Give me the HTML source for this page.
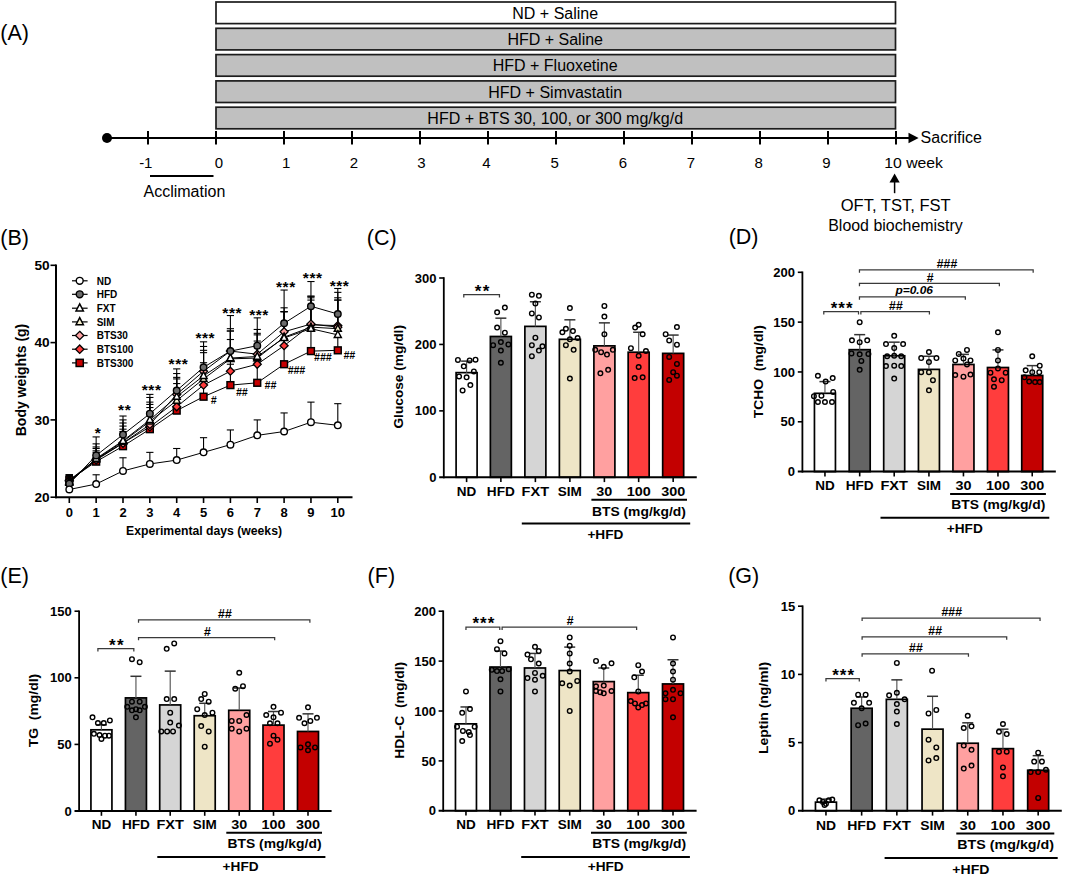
<!DOCTYPE html>
<html><head><meta charset="utf-8"><title>Figure</title>
<style>html,body{margin:0;padding:0;background:#fff;}body{width:1065px;height:877px;overflow:hidden;font-family:"Liberation Sans",sans-serif;}svg{display:block;}</style>
</head><body>
<svg width="1065" height="877" viewBox="0 0 1065 877" font-family="'Liberation Sans', sans-serif">
<rect width="1065" height="877" fill="#fff"/>
<text x="0.30" y="39.80" font-size="21.5">(A)</text>
<rect x="216.00" y="2.00" width="679.50" height="21.60" fill="#fff" stroke="#1c1c1c" stroke-width="1.7"/>
<text x="555.20" y="18.70" font-size="16" text-anchor="middle">ND + Saline</text>
<rect x="216.00" y="28.30" width="679.50" height="21.60" fill="#c0c0c0" stroke="#1c1c1c" stroke-width="1.7"/>
<text x="555.20" y="45.00" font-size="16" text-anchor="middle">HFD + Saline</text>
<rect x="216.00" y="54.60" width="679.50" height="21.60" fill="#c0c0c0" stroke="#1c1c1c" stroke-width="1.7"/>
<text x="555.20" y="71.30" font-size="16" text-anchor="middle">HFD + Fluoxetine</text>
<rect x="216.00" y="80.90" width="679.50" height="21.60" fill="#c0c0c0" stroke="#1c1c1c" stroke-width="1.7"/>
<text x="555.20" y="97.60" font-size="16" text-anchor="middle">HFD + Simvastatin</text>
<rect x="216.00" y="107.20" width="679.50" height="21.60" fill="#c0c0c0" stroke="#1c1c1c" stroke-width="1.7"/>
<text x="555.20" y="123.90" font-size="16" text-anchor="middle">HFD + BTS 30, 100, or 300 mg/kg/d</text>
<line x1="107.00" y1="138.00" x2="911.00" y2="138.00" stroke="#000" stroke-width="2"/>
<circle cx="107.00" cy="138.00" r="5.00" fill="#000" stroke="#000" stroke-width="0"/>
<polygon points="908.50,132.80 908.50,143.20 918.60,138.00" fill="#000" stroke="#000" stroke-width="0" stroke-linejoin="miter"/>
<line x1="148.00" y1="131.00" x2="148.00" y2="144.50" stroke="#000" stroke-width="2"/>
<line x1="216.00" y1="131.00" x2="216.00" y2="144.50" stroke="#000" stroke-width="2"/>
<line x1="284.00" y1="131.00" x2="284.00" y2="144.50" stroke="#000" stroke-width="2"/>
<line x1="352.00" y1="131.00" x2="352.00" y2="144.50" stroke="#000" stroke-width="2"/>
<line x1="420.00" y1="131.00" x2="420.00" y2="144.50" stroke="#000" stroke-width="2"/>
<line x1="488.00" y1="131.00" x2="488.00" y2="144.50" stroke="#000" stroke-width="2"/>
<line x1="556.00" y1="131.00" x2="556.00" y2="144.50" stroke="#000" stroke-width="2"/>
<line x1="624.00" y1="131.00" x2="624.00" y2="144.50" stroke="#000" stroke-width="2"/>
<line x1="692.00" y1="131.00" x2="692.00" y2="144.50" stroke="#000" stroke-width="2"/>
<line x1="760.00" y1="131.00" x2="760.00" y2="144.50" stroke="#000" stroke-width="2"/>
<line x1="828.00" y1="131.00" x2="828.00" y2="144.50" stroke="#000" stroke-width="2"/>
<line x1="896.00" y1="131.00" x2="896.00" y2="144.50" stroke="#000" stroke-width="2"/>
<text x="145.80" y="168.00" font-size="15" text-anchor="middle">-1</text>
<text x="219.00" y="168.00" font-size="15" text-anchor="middle">0</text>
<text x="286.20" y="168.00" font-size="15" text-anchor="middle">1</text>
<text x="353.80" y="168.00" font-size="15" text-anchor="middle">2</text>
<text x="421.50" y="168.00" font-size="15" text-anchor="middle">3</text>
<text x="486.50" y="168.00" font-size="15" text-anchor="middle">4</text>
<text x="554.60" y="168.00" font-size="15" text-anchor="middle">5</text>
<text x="623.00" y="168.00" font-size="15" text-anchor="middle">6</text>
<text x="690.80" y="168.00" font-size="15" text-anchor="middle">7</text>
<text x="758.60" y="168.00" font-size="15" text-anchor="middle">8</text>
<text x="826.50" y="168.00" font-size="15" text-anchor="middle">9</text>
<text x="884.20" y="168.00" font-size="15" textLength="58.8" lengthAdjust="spacingAndGlyphs">10 week</text>
<line x1="150.00" y1="176.00" x2="213.50" y2="176.00" stroke="#000" stroke-width="2.2"/>
<text x="184.40" y="197.20" font-size="16" text-anchor="middle">Acclimation</text>
<text x="920.60" y="143.00" font-size="16">Sacrifice</text>
<polygon points="889.50,182.60 899.70,182.60 894.60,173.40" fill="#000" stroke="#000" stroke-width="0" stroke-linejoin="miter"/>
<line x1="894.60" y1="182.00" x2="894.60" y2="193.20" stroke="#000" stroke-width="1.5"/>
<text x="895.70" y="211.00" font-size="16" text-anchor="middle" textLength="110" lengthAdjust="spacingAndGlyphs">OFT, TST, FST</text>
<text x="895.50" y="231.30" font-size="16" text-anchor="middle" textLength="134.5" lengthAdjust="spacingAndGlyphs">Blood biochemistry</text>
<text x="0.30" y="244.50" font-size="21.5">(B)</text>
<text x="366.80" y="244.60" font-size="21.5">(C)</text>
<text x="728.70" y="244.40" font-size="21.5">(D)</text>
<text x="0.30" y="583.40" font-size="21.5">(E)</text>
<text x="367.60" y="582.80" font-size="21.5">(F)</text>
<text x="728.20" y="583.40" font-size="21.5">(G)</text>
<line x1="56.00" y1="264.50" x2="56.00" y2="498.20" stroke="#000" stroke-width="2"/>
<line x1="55.00" y1="497.20" x2="352.50" y2="497.20" stroke="#000" stroke-width="2"/>
<line x1="50.50" y1="497.20" x2="56.00" y2="497.20" stroke="#000" stroke-width="1.6"/>
<text x="49.60" y="501.80" font-size="13" font-weight="bold" text-anchor="end" textLength="15.2" lengthAdjust="spacingAndGlyphs">20</text>
<line x1="50.50" y1="419.90" x2="56.00" y2="419.90" stroke="#000" stroke-width="1.6"/>
<text x="49.60" y="424.50" font-size="13" font-weight="bold" text-anchor="end" textLength="15.2" lengthAdjust="spacingAndGlyphs">30</text>
<line x1="50.50" y1="342.60" x2="56.00" y2="342.60" stroke="#000" stroke-width="1.6"/>
<text x="49.60" y="347.20" font-size="13" font-weight="bold" text-anchor="end" textLength="15.2" lengthAdjust="spacingAndGlyphs">40</text>
<line x1="50.50" y1="265.30" x2="56.00" y2="265.30" stroke="#000" stroke-width="1.6"/>
<text x="49.60" y="269.90" font-size="13" font-weight="bold" text-anchor="end" textLength="15.2" lengthAdjust="spacingAndGlyphs">50</text>
<line x1="69.30" y1="497.00" x2="69.30" y2="503.00" stroke="#000" stroke-width="1.6"/>
<text x="69.30" y="517.40" font-size="13" font-weight="bold" text-anchor="middle">0</text>
<line x1="96.15" y1="497.00" x2="96.15" y2="503.00" stroke="#000" stroke-width="1.6"/>
<text x="96.15" y="517.40" font-size="13" font-weight="bold" text-anchor="middle">1</text>
<line x1="123.00" y1="497.00" x2="123.00" y2="503.00" stroke="#000" stroke-width="1.6"/>
<text x="123.00" y="517.40" font-size="13" font-weight="bold" text-anchor="middle">2</text>
<line x1="149.85" y1="497.00" x2="149.85" y2="503.00" stroke="#000" stroke-width="1.6"/>
<text x="149.85" y="517.40" font-size="13" font-weight="bold" text-anchor="middle">3</text>
<line x1="176.70" y1="497.00" x2="176.70" y2="503.00" stroke="#000" stroke-width="1.6"/>
<text x="176.70" y="517.40" font-size="13" font-weight="bold" text-anchor="middle">4</text>
<line x1="203.55" y1="497.00" x2="203.55" y2="503.00" stroke="#000" stroke-width="1.6"/>
<text x="203.55" y="517.40" font-size="13" font-weight="bold" text-anchor="middle">5</text>
<line x1="230.40" y1="497.00" x2="230.40" y2="503.00" stroke="#000" stroke-width="1.6"/>
<text x="230.40" y="517.40" font-size="13" font-weight="bold" text-anchor="middle">6</text>
<line x1="257.25" y1="497.00" x2="257.25" y2="503.00" stroke="#000" stroke-width="1.6"/>
<text x="257.25" y="517.40" font-size="13" font-weight="bold" text-anchor="middle">7</text>
<line x1="284.10" y1="497.00" x2="284.10" y2="503.00" stroke="#000" stroke-width="1.6"/>
<text x="284.10" y="517.40" font-size="13" font-weight="bold" text-anchor="middle">8</text>
<line x1="310.95" y1="497.00" x2="310.95" y2="503.00" stroke="#000" stroke-width="1.6"/>
<text x="310.95" y="517.40" font-size="13" font-weight="bold" text-anchor="middle">9</text>
<line x1="337.80" y1="497.00" x2="337.80" y2="503.00" stroke="#000" stroke-width="1.6"/>
<text x="337.80" y="517.40" font-size="13" font-weight="bold" text-anchor="middle">10</text>
<text x="204.00" y="535.20" font-size="12" font-weight="bold" text-anchor="middle" textLength="156" lengthAdjust="spacingAndGlyphs">Experimental days (weeks)</text>
<text x="26.30" y="380.00" font-size="14" font-weight="bold" text-anchor="middle" textLength="112.5" lengthAdjust="spacingAndGlyphs" transform="rotate(-90 26.30 380.00)">Body weights (g)</text>
<line x1="69.30" y1="489.47" x2="69.30" y2="484.83" stroke="#000" stroke-width="1.1"/>
<line x1="65.70" y1="484.83" x2="72.90" y2="484.83" stroke="#000" stroke-width="1.1"/>
<line x1="96.15" y1="484.06" x2="96.15" y2="474.78" stroke="#000" stroke-width="1.1"/>
<line x1="92.55" y1="474.78" x2="99.75" y2="474.78" stroke="#000" stroke-width="1.1"/>
<line x1="123.00" y1="470.92" x2="123.00" y2="457.78" stroke="#000" stroke-width="1.1"/>
<line x1="119.40" y1="457.78" x2="126.60" y2="457.78" stroke="#000" stroke-width="1.1"/>
<line x1="149.85" y1="463.96" x2="149.85" y2="452.37" stroke="#000" stroke-width="1.1"/>
<line x1="146.25" y1="452.37" x2="153.45" y2="452.37" stroke="#000" stroke-width="1.1"/>
<line x1="176.70" y1="460.10" x2="176.70" y2="448.50" stroke="#000" stroke-width="1.1"/>
<line x1="173.10" y1="448.50" x2="180.30" y2="448.50" stroke="#000" stroke-width="1.1"/>
<line x1="203.55" y1="452.37" x2="203.55" y2="437.68" stroke="#000" stroke-width="1.1"/>
<line x1="199.95" y1="437.68" x2="207.15" y2="437.68" stroke="#000" stroke-width="1.1"/>
<line x1="230.40" y1="444.64" x2="230.40" y2="429.95" stroke="#000" stroke-width="1.1"/>
<line x1="226.80" y1="429.95" x2="234.00" y2="429.95" stroke="#000" stroke-width="1.1"/>
<line x1="257.25" y1="435.36" x2="257.25" y2="419.90" stroke="#000" stroke-width="1.1"/>
<line x1="253.65" y1="419.90" x2="260.85" y2="419.90" stroke="#000" stroke-width="1.1"/>
<line x1="284.10" y1="431.50" x2="284.10" y2="412.94" stroke="#000" stroke-width="1.1"/>
<line x1="280.50" y1="412.94" x2="287.70" y2="412.94" stroke="#000" stroke-width="1.1"/>
<line x1="310.95" y1="422.22" x2="310.95" y2="402.12" stroke="#000" stroke-width="1.1"/>
<line x1="307.35" y1="402.12" x2="314.55" y2="402.12" stroke="#000" stroke-width="1.1"/>
<line x1="337.80" y1="425.31" x2="337.80" y2="403.67" stroke="#000" stroke-width="1.1"/>
<line x1="334.20" y1="403.67" x2="341.40" y2="403.67" stroke="#000" stroke-width="1.1"/>
<line x1="69.30" y1="483.67" x2="69.30" y2="477.10" stroke="#000" stroke-width="1.1"/>
<line x1="65.70" y1="477.10" x2="72.90" y2="477.10" stroke="#000" stroke-width="1.1"/>
<line x1="96.15" y1="455.46" x2="96.15" y2="436.91" stroke="#000" stroke-width="1.1"/>
<line x1="92.55" y1="436.91" x2="99.75" y2="436.91" stroke="#000" stroke-width="1.1"/>
<line x1="123.00" y1="434.59" x2="123.00" y2="416.03" stroke="#000" stroke-width="1.1"/>
<line x1="119.40" y1="416.03" x2="126.60" y2="416.03" stroke="#000" stroke-width="1.1"/>
<line x1="149.85" y1="413.72" x2="149.85" y2="394.39" stroke="#000" stroke-width="1.1"/>
<line x1="146.25" y1="394.39" x2="153.45" y2="394.39" stroke="#000" stroke-width="1.1"/>
<line x1="176.70" y1="390.53" x2="176.70" y2="368.88" stroke="#000" stroke-width="1.1"/>
<line x1="173.10" y1="368.88" x2="180.30" y2="368.88" stroke="#000" stroke-width="1.1"/>
<line x1="203.55" y1="367.34" x2="203.55" y2="341.83" stroke="#000" stroke-width="1.1"/>
<line x1="199.95" y1="341.83" x2="207.15" y2="341.83" stroke="#000" stroke-width="1.1"/>
<line x1="230.40" y1="351.10" x2="230.40" y2="315.54" stroke="#000" stroke-width="1.1"/>
<line x1="226.80" y1="315.54" x2="234.00" y2="315.54" stroke="#000" stroke-width="1.1"/>
<line x1="257.25" y1="345.69" x2="257.25" y2="317.86" stroke="#000" stroke-width="1.1"/>
<line x1="253.65" y1="317.86" x2="260.85" y2="317.86" stroke="#000" stroke-width="1.1"/>
<line x1="284.10" y1="323.27" x2="284.10" y2="290.04" stroke="#000" stroke-width="1.1"/>
<line x1="280.50" y1="290.04" x2="287.70" y2="290.04" stroke="#000" stroke-width="1.1"/>
<line x1="310.95" y1="306.27" x2="310.95" y2="281.53" stroke="#000" stroke-width="1.1"/>
<line x1="307.35" y1="281.53" x2="314.55" y2="281.53" stroke="#000" stroke-width="1.1"/>
<line x1="337.80" y1="314.00" x2="337.80" y2="288.49" stroke="#000" stroke-width="1.1"/>
<line x1="334.20" y1="288.49" x2="341.40" y2="288.49" stroke="#000" stroke-width="1.1"/>
<line x1="69.30" y1="482.51" x2="69.30" y2="475.56" stroke="#000" stroke-width="1.1"/>
<line x1="65.70" y1="475.56" x2="72.90" y2="475.56" stroke="#000" stroke-width="1.1"/>
<line x1="96.15" y1="458.55" x2="96.15" y2="443.86" stroke="#000" stroke-width="1.1"/>
<line x1="92.55" y1="443.86" x2="99.75" y2="443.86" stroke="#000" stroke-width="1.1"/>
<line x1="123.00" y1="440.77" x2="123.00" y2="419.90" stroke="#000" stroke-width="1.1"/>
<line x1="119.40" y1="419.90" x2="126.60" y2="419.90" stroke="#000" stroke-width="1.1"/>
<line x1="149.85" y1="419.90" x2="149.85" y2="397.48" stroke="#000" stroke-width="1.1"/>
<line x1="146.25" y1="397.48" x2="153.45" y2="397.48" stroke="#000" stroke-width="1.1"/>
<line x1="176.70" y1="396.71" x2="176.70" y2="373.52" stroke="#000" stroke-width="1.1"/>
<line x1="173.10" y1="373.52" x2="180.30" y2="373.52" stroke="#000" stroke-width="1.1"/>
<line x1="203.55" y1="375.84" x2="203.55" y2="346.46" stroke="#000" stroke-width="1.1"/>
<line x1="199.95" y1="346.46" x2="207.15" y2="346.46" stroke="#000" stroke-width="1.1"/>
<line x1="230.40" y1="358.06" x2="230.40" y2="331.00" stroke="#000" stroke-width="1.1"/>
<line x1="226.80" y1="331.00" x2="234.00" y2="331.00" stroke="#000" stroke-width="1.1"/>
<line x1="257.25" y1="356.51" x2="257.25" y2="333.32" stroke="#000" stroke-width="1.1"/>
<line x1="253.65" y1="333.32" x2="260.85" y2="333.32" stroke="#000" stroke-width="1.1"/>
<line x1="284.10" y1="337.96" x2="284.10" y2="311.68" stroke="#000" stroke-width="1.1"/>
<line x1="280.50" y1="311.68" x2="287.70" y2="311.68" stroke="#000" stroke-width="1.1"/>
<line x1="310.95" y1="328.69" x2="310.95" y2="300.08" stroke="#000" stroke-width="1.1"/>
<line x1="307.35" y1="300.08" x2="314.55" y2="300.08" stroke="#000" stroke-width="1.1"/>
<line x1="337.80" y1="334.87" x2="337.80" y2="300.08" stroke="#000" stroke-width="1.1"/>
<line x1="334.20" y1="300.08" x2="341.40" y2="300.08" stroke="#000" stroke-width="1.1"/>
<line x1="69.30" y1="481.74" x2="69.30" y2="475.56" stroke="#000" stroke-width="1.1"/>
<line x1="65.70" y1="475.56" x2="72.90" y2="475.56" stroke="#000" stroke-width="1.1"/>
<line x1="96.15" y1="459.32" x2="96.15" y2="446.95" stroke="#000" stroke-width="1.1"/>
<line x1="92.55" y1="446.95" x2="99.75" y2="446.95" stroke="#000" stroke-width="1.1"/>
<line x1="123.00" y1="441.54" x2="123.00" y2="422.99" stroke="#000" stroke-width="1.1"/>
<line x1="119.40" y1="422.99" x2="126.60" y2="422.99" stroke="#000" stroke-width="1.1"/>
<line x1="149.85" y1="421.45" x2="149.85" y2="402.12" stroke="#000" stroke-width="1.1"/>
<line x1="146.25" y1="402.12" x2="153.45" y2="402.12" stroke="#000" stroke-width="1.1"/>
<line x1="176.70" y1="400.57" x2="176.70" y2="377.38" stroke="#000" stroke-width="1.1"/>
<line x1="173.10" y1="377.38" x2="180.30" y2="377.38" stroke="#000" stroke-width="1.1"/>
<line x1="203.55" y1="378.93" x2="203.55" y2="350.33" stroke="#000" stroke-width="1.1"/>
<line x1="199.95" y1="350.33" x2="207.15" y2="350.33" stroke="#000" stroke-width="1.1"/>
<line x1="230.40" y1="358.83" x2="230.40" y2="328.69" stroke="#000" stroke-width="1.1"/>
<line x1="226.80" y1="328.69" x2="234.00" y2="328.69" stroke="#000" stroke-width="1.1"/>
<line x1="257.25" y1="358.06" x2="257.25" y2="334.87" stroke="#000" stroke-width="1.1"/>
<line x1="253.65" y1="334.87" x2="260.85" y2="334.87" stroke="#000" stroke-width="1.1"/>
<line x1="284.10" y1="337.19" x2="284.10" y2="307.81" stroke="#000" stroke-width="1.1"/>
<line x1="280.50" y1="307.81" x2="287.70" y2="307.81" stroke="#000" stroke-width="1.1"/>
<line x1="310.95" y1="327.14" x2="310.95" y2="296.22" stroke="#000" stroke-width="1.1"/>
<line x1="307.35" y1="296.22" x2="314.55" y2="296.22" stroke="#000" stroke-width="1.1"/>
<line x1="337.80" y1="328.69" x2="337.80" y2="297.77" stroke="#000" stroke-width="1.1"/>
<line x1="334.20" y1="297.77" x2="341.40" y2="297.77" stroke="#000" stroke-width="1.1"/>
<line x1="69.30" y1="480.97" x2="69.30" y2="474.78" stroke="#000" stroke-width="1.1"/>
<line x1="65.70" y1="474.78" x2="72.90" y2="474.78" stroke="#000" stroke-width="1.1"/>
<line x1="96.15" y1="460.10" x2="96.15" y2="448.50" stroke="#000" stroke-width="1.1"/>
<line x1="92.55" y1="448.50" x2="99.75" y2="448.50" stroke="#000" stroke-width="1.1"/>
<line x1="123.00" y1="443.09" x2="123.00" y2="426.08" stroke="#000" stroke-width="1.1"/>
<line x1="119.40" y1="426.08" x2="126.60" y2="426.08" stroke="#000" stroke-width="1.1"/>
<line x1="149.85" y1="424.54" x2="149.85" y2="404.44" stroke="#000" stroke-width="1.1"/>
<line x1="146.25" y1="404.44" x2="153.45" y2="404.44" stroke="#000" stroke-width="1.1"/>
<line x1="176.70" y1="394.39" x2="176.70" y2="378.93" stroke="#000" stroke-width="1.1"/>
<line x1="173.10" y1="378.93" x2="180.30" y2="378.93" stroke="#000" stroke-width="1.1"/>
<line x1="203.55" y1="371.20" x2="203.55" y2="352.65" stroke="#000" stroke-width="1.1"/>
<line x1="199.95" y1="352.65" x2="207.15" y2="352.65" stroke="#000" stroke-width="1.1"/>
<line x1="230.40" y1="351.10" x2="230.40" y2="331.00" stroke="#000" stroke-width="1.1"/>
<line x1="226.80" y1="331.00" x2="234.00" y2="331.00" stroke="#000" stroke-width="1.1"/>
<line x1="257.25" y1="354.19" x2="257.25" y2="329.46" stroke="#000" stroke-width="1.1"/>
<line x1="253.65" y1="329.46" x2="260.85" y2="329.46" stroke="#000" stroke-width="1.1"/>
<line x1="284.10" y1="331.78" x2="284.10" y2="311.68" stroke="#000" stroke-width="1.1"/>
<line x1="280.50" y1="311.68" x2="287.70" y2="311.68" stroke="#000" stroke-width="1.1"/>
<line x1="310.95" y1="324.05" x2="310.95" y2="297.77" stroke="#000" stroke-width="1.1"/>
<line x1="307.35" y1="297.77" x2="314.55" y2="297.77" stroke="#000" stroke-width="1.1"/>
<line x1="337.80" y1="327.14" x2="337.80" y2="300.08" stroke="#000" stroke-width="1.1"/>
<line x1="334.20" y1="300.08" x2="341.40" y2="300.08" stroke="#000" stroke-width="1.1"/>
<line x1="69.30" y1="480.19" x2="69.30" y2="474.78" stroke="#000" stroke-width="1.1"/>
<line x1="65.70" y1="474.78" x2="72.90" y2="474.78" stroke="#000" stroke-width="1.1"/>
<line x1="96.15" y1="459.32" x2="96.15" y2="450.82" stroke="#000" stroke-width="1.1"/>
<line x1="92.55" y1="450.82" x2="99.75" y2="450.82" stroke="#000" stroke-width="1.1"/>
<line x1="123.00" y1="443.09" x2="123.00" y2="429.18" stroke="#000" stroke-width="1.1"/>
<line x1="119.40" y1="429.18" x2="126.60" y2="429.18" stroke="#000" stroke-width="1.1"/>
<line x1="149.85" y1="426.86" x2="149.85" y2="407.53" stroke="#000" stroke-width="1.1"/>
<line x1="146.25" y1="407.53" x2="153.45" y2="407.53" stroke="#000" stroke-width="1.1"/>
<line x1="176.70" y1="406.76" x2="176.70" y2="383.57" stroke="#000" stroke-width="1.1"/>
<line x1="173.10" y1="383.57" x2="180.30" y2="383.57" stroke="#000" stroke-width="1.1"/>
<line x1="203.55" y1="385.12" x2="203.55" y2="362.70" stroke="#000" stroke-width="1.1"/>
<line x1="199.95" y1="362.70" x2="207.15" y2="362.70" stroke="#000" stroke-width="1.1"/>
<line x1="230.40" y1="371.20" x2="230.40" y2="339.51" stroke="#000" stroke-width="1.1"/>
<line x1="226.80" y1="339.51" x2="234.00" y2="339.51" stroke="#000" stroke-width="1.1"/>
<line x1="257.25" y1="364.24" x2="257.25" y2="341.05" stroke="#000" stroke-width="1.1"/>
<line x1="253.65" y1="341.05" x2="260.85" y2="341.05" stroke="#000" stroke-width="1.1"/>
<line x1="284.10" y1="345.69" x2="284.10" y2="311.68" stroke="#000" stroke-width="1.1"/>
<line x1="280.50" y1="311.68" x2="287.70" y2="311.68" stroke="#000" stroke-width="1.1"/>
<line x1="310.95" y1="324.82" x2="310.95" y2="296.22" stroke="#000" stroke-width="1.1"/>
<line x1="307.35" y1="296.22" x2="314.55" y2="296.22" stroke="#000" stroke-width="1.1"/>
<line x1="337.80" y1="325.59" x2="337.80" y2="292.36" stroke="#000" stroke-width="1.1"/>
<line x1="334.20" y1="292.36" x2="341.40" y2="292.36" stroke="#000" stroke-width="1.1"/>
<line x1="69.30" y1="480.19" x2="69.30" y2="474.78" stroke="#000" stroke-width="1.1"/>
<line x1="65.70" y1="474.78" x2="72.90" y2="474.78" stroke="#000" stroke-width="1.1"/>
<line x1="96.15" y1="461.64" x2="96.15" y2="452.37" stroke="#000" stroke-width="1.1"/>
<line x1="92.55" y1="452.37" x2="99.75" y2="452.37" stroke="#000" stroke-width="1.1"/>
<line x1="123.00" y1="446.18" x2="123.00" y2="431.50" stroke="#000" stroke-width="1.1"/>
<line x1="119.40" y1="431.50" x2="126.60" y2="431.50" stroke="#000" stroke-width="1.1"/>
<line x1="149.85" y1="429.18" x2="149.85" y2="412.17" stroke="#000" stroke-width="1.1"/>
<line x1="146.25" y1="412.17" x2="153.45" y2="412.17" stroke="#000" stroke-width="1.1"/>
<line x1="176.70" y1="410.62" x2="176.70" y2="392.84" stroke="#000" stroke-width="1.1"/>
<line x1="173.10" y1="392.84" x2="180.30" y2="392.84" stroke="#000" stroke-width="1.1"/>
<line x1="203.55" y1="396.71" x2="203.55" y2="376.61" stroke="#000" stroke-width="1.1"/>
<line x1="199.95" y1="376.61" x2="207.15" y2="376.61" stroke="#000" stroke-width="1.1"/>
<line x1="230.40" y1="385.12" x2="230.40" y2="364.24" stroke="#000" stroke-width="1.1"/>
<line x1="226.80" y1="364.24" x2="234.00" y2="364.24" stroke="#000" stroke-width="1.1"/>
<line x1="257.25" y1="382.80" x2="257.25" y2="361.92" stroke="#000" stroke-width="1.1"/>
<line x1="253.65" y1="361.92" x2="260.85" y2="361.92" stroke="#000" stroke-width="1.1"/>
<line x1="284.10" y1="364.24" x2="284.10" y2="338.74" stroke="#000" stroke-width="1.1"/>
<line x1="280.50" y1="338.74" x2="287.70" y2="338.74" stroke="#000" stroke-width="1.1"/>
<line x1="310.95" y1="351.10" x2="310.95" y2="331.00" stroke="#000" stroke-width="1.1"/>
<line x1="307.35" y1="331.00" x2="314.55" y2="331.00" stroke="#000" stroke-width="1.1"/>
<line x1="337.80" y1="350.33" x2="337.80" y2="327.14" stroke="#000" stroke-width="1.1"/>
<line x1="334.20" y1="327.14" x2="341.40" y2="327.14" stroke="#000" stroke-width="1.1"/>
<path d="M69.30,480.19 L96.15,461.64 L123.00,446.18 L149.85,429.18 L176.70,410.62 L203.55,396.71 L230.40,385.12 L257.25,382.80 L284.10,364.24 L310.95,351.10 L337.80,350.33" fill="none" stroke="#000" stroke-width="1.0"/>
<rect x="65.90" y="476.79" width="6.80" height="6.80" fill="#c80000" stroke="#000" stroke-width="1.5"/>
<rect x="92.75" y="458.24" width="6.80" height="6.80" fill="#c80000" stroke="#000" stroke-width="1.5"/>
<rect x="119.60" y="442.78" width="6.80" height="6.80" fill="#c80000" stroke="#000" stroke-width="1.5"/>
<rect x="146.45" y="425.78" width="6.80" height="6.80" fill="#c80000" stroke="#000" stroke-width="1.5"/>
<rect x="173.30" y="407.22" width="6.80" height="6.80" fill="#c80000" stroke="#000" stroke-width="1.5"/>
<rect x="200.15" y="393.31" width="6.80" height="6.80" fill="#c80000" stroke="#000" stroke-width="1.5"/>
<rect x="227.00" y="381.72" width="6.80" height="6.80" fill="#c80000" stroke="#000" stroke-width="1.5"/>
<rect x="253.85" y="379.40" width="6.80" height="6.80" fill="#c80000" stroke="#000" stroke-width="1.5"/>
<rect x="280.70" y="360.84" width="6.80" height="6.80" fill="#c80000" stroke="#000" stroke-width="1.5"/>
<rect x="307.55" y="347.70" width="6.80" height="6.80" fill="#c80000" stroke="#000" stroke-width="1.5"/>
<rect x="334.40" y="346.93" width="6.80" height="6.80" fill="#c80000" stroke="#000" stroke-width="1.5"/>
<path d="M69.30,480.19 L96.15,459.32 L123.00,443.09 L149.85,426.86 L176.70,406.76 L203.55,385.12 L230.40,371.20 L257.25,364.24 L284.10,345.69 L310.95,324.82 L337.80,325.59" fill="none" stroke="#000" stroke-width="1.0"/>
<polygon points="69.30,476.19 73.30,480.19 69.30,484.19 65.30,480.19" fill="#ff3c3c" stroke="#000" stroke-width="1.3" stroke-linejoin="miter"/>
<polygon points="96.15,455.32 100.15,459.32 96.15,463.32 92.15,459.32" fill="#ff3c3c" stroke="#000" stroke-width="1.3" stroke-linejoin="miter"/>
<polygon points="123.00,439.09 127.00,443.09 123.00,447.09 119.00,443.09" fill="#ff3c3c" stroke="#000" stroke-width="1.3" stroke-linejoin="miter"/>
<polygon points="149.85,422.86 153.85,426.86 149.85,430.86 145.85,426.86" fill="#ff3c3c" stroke="#000" stroke-width="1.3" stroke-linejoin="miter"/>
<polygon points="176.70,402.76 180.70,406.76 176.70,410.76 172.70,406.76" fill="#ff3c3c" stroke="#000" stroke-width="1.3" stroke-linejoin="miter"/>
<polygon points="203.55,381.12 207.55,385.12 203.55,389.12 199.55,385.12" fill="#ff3c3c" stroke="#000" stroke-width="1.3" stroke-linejoin="miter"/>
<polygon points="230.40,367.20 234.40,371.20 230.40,375.20 226.40,371.20" fill="#ff3c3c" stroke="#000" stroke-width="1.3" stroke-linejoin="miter"/>
<polygon points="257.25,360.24 261.25,364.24 257.25,368.24 253.25,364.24" fill="#ff3c3c" stroke="#000" stroke-width="1.3" stroke-linejoin="miter"/>
<polygon points="284.10,341.69 288.10,345.69 284.10,349.69 280.10,345.69" fill="#ff3c3c" stroke="#000" stroke-width="1.3" stroke-linejoin="miter"/>
<polygon points="310.95,320.82 314.95,324.82 310.95,328.82 306.95,324.82" fill="#ff3c3c" stroke="#000" stroke-width="1.3" stroke-linejoin="miter"/>
<polygon points="337.80,321.59 341.80,325.59 337.80,329.59 333.80,325.59" fill="#ff3c3c" stroke="#000" stroke-width="1.3" stroke-linejoin="miter"/>
<path d="M69.30,480.97 L96.15,460.10 L123.00,443.09 L149.85,424.54 L176.70,394.39 L203.55,371.20 L230.40,351.10 L257.25,354.19 L284.10,331.78 L310.95,324.05 L337.80,327.14" fill="none" stroke="#000" stroke-width="1.0"/>
<polygon points="69.30,476.97 73.30,480.97 69.30,484.97 65.30,480.97" fill="#ffa3a3" stroke="#000" stroke-width="1.3" stroke-linejoin="miter"/>
<polygon points="96.15,456.10 100.15,460.10 96.15,464.10 92.15,460.10" fill="#ffa3a3" stroke="#000" stroke-width="1.3" stroke-linejoin="miter"/>
<polygon points="123.00,439.09 127.00,443.09 123.00,447.09 119.00,443.09" fill="#ffa3a3" stroke="#000" stroke-width="1.3" stroke-linejoin="miter"/>
<polygon points="149.85,420.54 153.85,424.54 149.85,428.54 145.85,424.54" fill="#ffa3a3" stroke="#000" stroke-width="1.3" stroke-linejoin="miter"/>
<polygon points="176.70,390.39 180.70,394.39 176.70,398.39 172.70,394.39" fill="#ffa3a3" stroke="#000" stroke-width="1.3" stroke-linejoin="miter"/>
<polygon points="203.55,367.20 207.55,371.20 203.55,375.20 199.55,371.20" fill="#ffa3a3" stroke="#000" stroke-width="1.3" stroke-linejoin="miter"/>
<polygon points="230.40,347.10 234.40,351.10 230.40,355.10 226.40,351.10" fill="#ffa3a3" stroke="#000" stroke-width="1.3" stroke-linejoin="miter"/>
<polygon points="257.25,350.19 261.25,354.19 257.25,358.19 253.25,354.19" fill="#ffa3a3" stroke="#000" stroke-width="1.3" stroke-linejoin="miter"/>
<polygon points="284.10,327.78 288.10,331.78 284.10,335.78 280.10,331.78" fill="#ffa3a3" stroke="#000" stroke-width="1.3" stroke-linejoin="miter"/>
<polygon points="310.95,320.05 314.95,324.05 310.95,328.05 306.95,324.05" fill="#ffa3a3" stroke="#000" stroke-width="1.3" stroke-linejoin="miter"/>
<polygon points="337.80,323.14 341.80,327.14 337.80,331.14 333.80,327.14" fill="#ffa3a3" stroke="#000" stroke-width="1.3" stroke-linejoin="miter"/>
<path d="M69.30,481.74 L96.15,459.32 L123.00,441.54 L149.85,421.45 L176.70,400.57 L203.55,378.93 L230.40,358.83 L257.25,358.06 L284.10,337.19 L310.95,327.14 L337.80,328.69" fill="none" stroke="#000" stroke-width="1.0"/>
<polygon points="69.30,477.64 72.80,484.37 65.80,484.37" fill="#f7f0cf" stroke="#000" stroke-width="1.5" stroke-linejoin="miter"/>
<polygon points="96.15,455.22 99.65,461.95 92.65,461.95" fill="#f7f0cf" stroke="#000" stroke-width="1.5" stroke-linejoin="miter"/>
<polygon points="123.00,437.44 126.50,444.17 119.50,444.17" fill="#f7f0cf" stroke="#000" stroke-width="1.5" stroke-linejoin="miter"/>
<polygon points="149.85,417.35 153.35,424.07 146.35,424.07" fill="#f7f0cf" stroke="#000" stroke-width="1.5" stroke-linejoin="miter"/>
<polygon points="176.70,396.47 180.20,403.20 173.20,403.20" fill="#f7f0cf" stroke="#000" stroke-width="1.5" stroke-linejoin="miter"/>
<polygon points="203.55,374.83 207.05,381.56 200.05,381.56" fill="#f7f0cf" stroke="#000" stroke-width="1.5" stroke-linejoin="miter"/>
<polygon points="230.40,354.73 233.90,361.46 226.90,361.46" fill="#f7f0cf" stroke="#000" stroke-width="1.5" stroke-linejoin="miter"/>
<polygon points="257.25,353.96 260.75,360.68 253.75,360.68" fill="#f7f0cf" stroke="#000" stroke-width="1.5" stroke-linejoin="miter"/>
<polygon points="284.10,333.09 287.60,339.81 280.60,339.81" fill="#f7f0cf" stroke="#000" stroke-width="1.5" stroke-linejoin="miter"/>
<polygon points="310.95,323.04 314.45,329.76 307.45,329.76" fill="#f7f0cf" stroke="#000" stroke-width="1.5" stroke-linejoin="miter"/>
<polygon points="337.80,324.59 341.30,331.31 334.30,331.31" fill="#f7f0cf" stroke="#000" stroke-width="1.5" stroke-linejoin="miter"/>
<path d="M69.30,482.51 L96.15,458.55 L123.00,440.77 L149.85,419.90 L176.70,396.71 L203.55,375.84 L230.40,358.06 L257.25,356.51 L284.10,337.96 L310.95,328.69 L337.80,334.87" fill="none" stroke="#000" stroke-width="1.0"/>
<polygon points="69.30,478.41 72.80,485.14 65.80,485.14" fill="#ffffff" stroke="#000" stroke-width="1.5" stroke-linejoin="miter"/>
<polygon points="96.15,454.45 99.65,461.17 92.65,461.17" fill="#ffffff" stroke="#000" stroke-width="1.5" stroke-linejoin="miter"/>
<polygon points="123.00,436.67 126.50,443.40 119.50,443.40" fill="#ffffff" stroke="#000" stroke-width="1.5" stroke-linejoin="miter"/>
<polygon points="149.85,415.80 153.35,422.52 146.35,422.52" fill="#ffffff" stroke="#000" stroke-width="1.5" stroke-linejoin="miter"/>
<polygon points="176.70,392.61 180.20,399.33 173.20,399.33" fill="#ffffff" stroke="#000" stroke-width="1.5" stroke-linejoin="miter"/>
<polygon points="203.55,371.74 207.05,378.46 200.05,378.46" fill="#ffffff" stroke="#000" stroke-width="1.5" stroke-linejoin="miter"/>
<polygon points="230.40,353.96 233.90,360.68 226.90,360.68" fill="#ffffff" stroke="#000" stroke-width="1.5" stroke-linejoin="miter"/>
<polygon points="257.25,352.41 260.75,359.14 253.75,359.14" fill="#ffffff" stroke="#000" stroke-width="1.5" stroke-linejoin="miter"/>
<polygon points="284.10,333.86 287.60,340.59 280.60,340.59" fill="#ffffff" stroke="#000" stroke-width="1.5" stroke-linejoin="miter"/>
<polygon points="310.95,324.59 314.45,331.31 307.45,331.31" fill="#ffffff" stroke="#000" stroke-width="1.5" stroke-linejoin="miter"/>
<polygon points="337.80,330.77 341.30,337.50 334.30,337.50" fill="#ffffff" stroke="#000" stroke-width="1.5" stroke-linejoin="miter"/>
<path d="M69.30,483.67 L96.15,455.46 L123.00,434.59 L149.85,413.72 L176.70,390.53 L203.55,367.34 L230.40,351.10 L257.25,345.69 L284.10,323.27 L310.95,306.27 L337.80,314.00" fill="none" stroke="#000" stroke-width="1.0"/>
<circle cx="69.30" cy="483.67" r="3.30" fill="#6b6b6b" stroke="#000" stroke-width="1.4"/>
<circle cx="96.15" cy="455.46" r="3.30" fill="#6b6b6b" stroke="#000" stroke-width="1.4"/>
<circle cx="123.00" cy="434.59" r="3.30" fill="#6b6b6b" stroke="#000" stroke-width="1.4"/>
<circle cx="149.85" cy="413.72" r="3.30" fill="#6b6b6b" stroke="#000" stroke-width="1.4"/>
<circle cx="176.70" cy="390.53" r="3.30" fill="#6b6b6b" stroke="#000" stroke-width="1.4"/>
<circle cx="203.55" cy="367.34" r="3.30" fill="#6b6b6b" stroke="#000" stroke-width="1.4"/>
<circle cx="230.40" cy="351.10" r="3.30" fill="#6b6b6b" stroke="#000" stroke-width="1.4"/>
<circle cx="257.25" cy="345.69" r="3.30" fill="#6b6b6b" stroke="#000" stroke-width="1.4"/>
<circle cx="284.10" cy="323.27" r="3.30" fill="#6b6b6b" stroke="#000" stroke-width="1.4"/>
<circle cx="310.95" cy="306.27" r="3.30" fill="#6b6b6b" stroke="#000" stroke-width="1.4"/>
<circle cx="337.80" cy="314.00" r="3.30" fill="#6b6b6b" stroke="#000" stroke-width="1.4"/>
<path d="M69.30,489.47 L96.15,484.06 L123.00,470.92 L149.85,463.96 L176.70,460.10 L203.55,452.37 L230.40,444.64 L257.25,435.36 L284.10,431.50 L310.95,422.22 L337.80,425.31" fill="none" stroke="#000" stroke-width="1.0"/>
<circle cx="69.30" cy="489.47" r="3.30" fill="#ffffff" stroke="#000" stroke-width="1.4"/>
<circle cx="96.15" cy="484.06" r="3.30" fill="#ffffff" stroke="#000" stroke-width="1.4"/>
<circle cx="123.00" cy="470.92" r="3.30" fill="#ffffff" stroke="#000" stroke-width="1.4"/>
<circle cx="149.85" cy="463.96" r="3.30" fill="#ffffff" stroke="#000" stroke-width="1.4"/>
<circle cx="176.70" cy="460.10" r="3.30" fill="#ffffff" stroke="#000" stroke-width="1.4"/>
<circle cx="203.55" cy="452.37" r="3.30" fill="#ffffff" stroke="#000" stroke-width="1.4"/>
<circle cx="230.40" cy="444.64" r="3.30" fill="#ffffff" stroke="#000" stroke-width="1.4"/>
<circle cx="257.25" cy="435.36" r="3.30" fill="#ffffff" stroke="#000" stroke-width="1.4"/>
<circle cx="284.10" cy="431.50" r="3.30" fill="#ffffff" stroke="#000" stroke-width="1.4"/>
<circle cx="310.95" cy="422.22" r="3.30" fill="#ffffff" stroke="#000" stroke-width="1.4"/>
<circle cx="337.80" cy="425.31" r="3.30" fill="#ffffff" stroke="#000" stroke-width="1.4"/>
<line x1="72.00" y1="280.80" x2="87.60" y2="280.80" stroke="#000" stroke-width="1.2"/>
<circle cx="79.70" cy="280.80" r="3.46" fill="#ffffff" stroke="#000" stroke-width="1.4"/>
<text x="96.70" y="284.50" font-size="10" font-weight="bold">ND</text>
<line x1="72.00" y1="294.30" x2="87.60" y2="294.30" stroke="#000" stroke-width="1.2"/>
<circle cx="79.70" cy="294.30" r="3.46" fill="#6b6b6b" stroke="#000" stroke-width="1.4"/>
<text x="96.70" y="298.00" font-size="10" font-weight="bold">HFD</text>
<line x1="72.00" y1="308.20" x2="87.60" y2="308.20" stroke="#000" stroke-width="1.2"/>
<polygon points="79.70,303.92 83.38,310.96 76.03,310.96" fill="#ffffff" stroke="#000" stroke-width="1.5" stroke-linejoin="miter"/>
<text x="96.70" y="311.90" font-size="10" font-weight="bold">FXT</text>
<line x1="72.00" y1="321.90" x2="87.60" y2="321.90" stroke="#000" stroke-width="1.2"/>
<polygon points="79.70,317.62 83.38,324.66 76.03,324.66" fill="#f7f0cf" stroke="#000" stroke-width="1.5" stroke-linejoin="miter"/>
<text x="96.70" y="325.60" font-size="10" font-weight="bold">SIM</text>
<line x1="72.00" y1="335.50" x2="87.60" y2="335.50" stroke="#000" stroke-width="1.2"/>
<polygon points="79.70,331.30 83.90,335.50 79.70,339.70 75.50,335.50" fill="#ffa3a3" stroke="#000" stroke-width="1.3" stroke-linejoin="miter"/>
<text x="96.70" y="339.20" font-size="10" font-weight="bold">BTS30</text>
<line x1="72.00" y1="349.20" x2="87.60" y2="349.20" stroke="#000" stroke-width="1.2"/>
<polygon points="79.70,345.00 83.90,349.20 79.70,353.40 75.50,349.20" fill="#ff3c3c" stroke="#000" stroke-width="1.3" stroke-linejoin="miter"/>
<text x="96.70" y="352.90" font-size="10" font-weight="bold">BTS100</text>
<line x1="72.00" y1="362.90" x2="87.60" y2="362.90" stroke="#000" stroke-width="1.2"/>
<rect x="76.13" y="359.33" width="7.14" height="7.14" fill="#c80000" stroke="#000" stroke-width="1.5"/>
<text x="96.70" y="366.60" font-size="10" font-weight="bold">BTS300</text>
<text x="97.65" y="437.70" font-size="15.5" font-weight="bold" text-anchor="middle" textLength="6.4" lengthAdjust="spacing">*</text>
<text x="124.50" y="414.90" font-size="15.5" font-weight="bold" text-anchor="middle" textLength="12.8" lengthAdjust="spacing">**</text>
<text x="151.35" y="395.20" font-size="15.5" font-weight="bold" text-anchor="middle" textLength="19.200000000000003" lengthAdjust="spacing">***</text>
<text x="178.20" y="369.20" font-size="15.5" font-weight="bold" text-anchor="middle" textLength="19.200000000000003" lengthAdjust="spacing">***</text>
<text x="205.05" y="342.70" font-size="15.5" font-weight="bold" text-anchor="middle" textLength="19.200000000000003" lengthAdjust="spacing">***</text>
<text x="231.90" y="317.50" font-size="15.5" font-weight="bold" text-anchor="middle" textLength="19.200000000000003" lengthAdjust="spacing">***</text>
<text x="258.75" y="320.40" font-size="15.5" font-weight="bold" text-anchor="middle" textLength="19.200000000000003" lengthAdjust="spacing">***</text>
<text x="285.60" y="291.90" font-size="15.5" font-weight="bold" text-anchor="middle" textLength="19.200000000000003" lengthAdjust="spacing">***</text>
<text x="312.45" y="282.60" font-size="15.5" font-weight="bold" text-anchor="middle" textLength="19.200000000000003" lengthAdjust="spacing">***</text>
<text x="339.30" y="290.70" font-size="15.5" font-weight="bold" text-anchor="middle" textLength="19.200000000000003" lengthAdjust="spacing">***</text>
<text x="213.60" y="404.20" font-size="11" font-weight="bold" text-anchor="middle" font-style="italic" textLength="5.8" lengthAdjust="spacingAndGlyphs">#</text>
<text x="241.70" y="395.90" font-size="11" font-weight="bold" text-anchor="middle" font-style="italic" textLength="11.6" lengthAdjust="spacingAndGlyphs">##</text>
<text x="270.40" y="389.10" font-size="11" font-weight="bold" text-anchor="middle" font-style="italic" textLength="11.6" lengthAdjust="spacingAndGlyphs">##</text>
<text x="296.40" y="373.60" font-size="11" font-weight="bold" text-anchor="middle" font-style="italic" textLength="17.4" lengthAdjust="spacingAndGlyphs">###</text>
<text x="322.80" y="360.60" font-size="11" font-weight="bold" text-anchor="middle" font-style="italic" textLength="17.4" lengthAdjust="spacingAndGlyphs">###</text>
<text x="349.30" y="359.10" font-size="11" font-weight="bold" text-anchor="middle" font-style="italic" textLength="11.6" lengthAdjust="spacingAndGlyphs">##</text>
<rect x="456.10" y="372.63" width="21.00" height="104.67" fill="#ffffff" stroke="#000" stroke-width="1.7"/>
<rect x="490.37" y="336.48" width="21.00" height="140.82" fill="#646464" stroke="#000" stroke-width="1.7"/>
<rect x="524.88" y="326.38" width="21.00" height="150.92" fill="#d5d5d5" stroke="#000" stroke-width="1.7"/>
<rect x="559.38" y="339.30" width="21.00" height="138.00" fill="#eee5c6" stroke="#000" stroke-width="1.7"/>
<rect x="593.89" y="345.87" width="21.00" height="131.43" fill="#ffa0a0" stroke="#000" stroke-width="1.7"/>
<rect x="628.16" y="352.21" width="21.00" height="125.09" fill="#ff3d3d" stroke="#000" stroke-width="1.7"/>
<rect x="662.67" y="353.38" width="21.00" height="123.92" fill="#c30000" stroke="#000" stroke-width="1.7"/>
<line x1="466.60" y1="372.63" x2="466.60" y2="361.13" stroke="#555" stroke-width="1.15"/>
<line x1="461.10" y1="361.13" x2="472.10" y2="361.13" stroke="#333" stroke-width="1.5"/>
<line x1="500.87" y1="336.48" x2="500.87" y2="318.17" stroke="#555" stroke-width="1.15"/>
<line x1="495.37" y1="318.17" x2="506.37" y2="318.17" stroke="#333" stroke-width="1.5"/>
<line x1="535.38" y1="326.38" x2="535.38" y2="301.74" stroke="#555" stroke-width="1.15"/>
<line x1="529.88" y1="301.74" x2="540.88" y2="301.74" stroke="#333" stroke-width="1.5"/>
<line x1="569.88" y1="339.30" x2="569.88" y2="319.81" stroke="#555" stroke-width="1.15"/>
<line x1="564.38" y1="319.81" x2="575.38" y2="319.81" stroke="#333" stroke-width="1.5"/>
<line x1="604.39" y1="345.87" x2="604.39" y2="322.86" stroke="#555" stroke-width="1.15"/>
<line x1="598.89" y1="322.86" x2="609.89" y2="322.86" stroke="#333" stroke-width="1.5"/>
<line x1="638.66" y1="352.21" x2="638.66" y2="332.25" stroke="#555" stroke-width="1.15"/>
<line x1="633.16" y1="332.25" x2="644.16" y2="332.25" stroke="#333" stroke-width="1.5"/>
<line x1="673.17" y1="353.38" x2="673.17" y2="335.07" stroke="#555" stroke-width="1.15"/>
<line x1="667.67" y1="335.07" x2="678.67" y2="335.07" stroke="#333" stroke-width="1.5"/>
<circle cx="457.91" cy="359.95" r="2.30" fill="none" stroke="#000" stroke-width="1.4"/>
<circle cx="463.78" cy="366.29" r="2.30" fill="none" stroke="#000" stroke-width="1.4"/>
<circle cx="469.65" cy="360.42" r="2.30" fill="none" stroke="#000" stroke-width="1.4"/>
<circle cx="475.52" cy="359.72" r="2.30" fill="none" stroke="#000" stroke-width="1.4"/>
<circle cx="473.87" cy="371.46" r="2.30" fill="none" stroke="#000" stroke-width="1.4"/>
<circle cx="459.08" cy="376.38" r="2.30" fill="none" stroke="#000" stroke-width="1.4"/>
<circle cx="466.60" cy="377.32" r="2.30" fill="none" stroke="#000" stroke-width="1.4"/>
<circle cx="470.35" cy="385.07" r="2.30" fill="none" stroke="#000" stroke-width="1.4"/>
<circle cx="462.61" cy="390.47" r="2.30" fill="none" stroke="#000" stroke-width="1.4"/>
<circle cx="497.11" cy="312.30" r="2.30" fill="none" stroke="#000" stroke-width="1.4"/>
<circle cx="504.86" cy="307.61" r="2.30" fill="none" stroke="#000" stroke-width="1.4"/>
<circle cx="497.11" cy="327.56" r="2.30" fill="none" stroke="#000" stroke-width="1.4"/>
<circle cx="504.86" cy="332.72" r="2.30" fill="none" stroke="#000" stroke-width="1.4"/>
<circle cx="493.12" cy="345.16" r="2.30" fill="none" stroke="#000" stroke-width="1.4"/>
<circle cx="500.87" cy="342.11" r="2.30" fill="none" stroke="#000" stroke-width="1.4"/>
<circle cx="508.38" cy="344.46" r="2.30" fill="none" stroke="#000" stroke-width="1.4"/>
<circle cx="500.87" cy="350.56" r="2.30" fill="none" stroke="#000" stroke-width="1.4"/>
<circle cx="500.87" cy="362.77" r="2.30" fill="none" stroke="#000" stroke-width="1.4"/>
<circle cx="531.85" cy="294.69" r="2.30" fill="none" stroke="#000" stroke-width="1.4"/>
<circle cx="538.90" cy="295.87" r="2.30" fill="none" stroke="#000" stroke-width="1.4"/>
<circle cx="535.38" cy="303.62" r="2.30" fill="none" stroke="#000" stroke-width="1.4"/>
<circle cx="531.85" cy="313.47" r="2.30" fill="none" stroke="#000" stroke-width="1.4"/>
<circle cx="538.90" cy="317.46" r="2.30" fill="none" stroke="#000" stroke-width="1.4"/>
<circle cx="535.38" cy="337.65" r="2.30" fill="none" stroke="#000" stroke-width="1.4"/>
<circle cx="531.85" cy="345.16" r="2.30" fill="none" stroke="#000" stroke-width="1.4"/>
<circle cx="542.42" cy="346.34" r="2.30" fill="none" stroke="#000" stroke-width="1.4"/>
<circle cx="538.90" cy="350.56" r="2.30" fill="none" stroke="#000" stroke-width="1.4"/>
<circle cx="531.85" cy="356.20" r="2.30" fill="none" stroke="#000" stroke-width="1.4"/>
<circle cx="569.88" cy="308.08" r="2.30" fill="none" stroke="#000" stroke-width="1.4"/>
<circle cx="565.89" cy="328.73" r="2.30" fill="none" stroke="#000" stroke-width="1.4"/>
<circle cx="572.93" cy="331.08" r="2.30" fill="none" stroke="#000" stroke-width="1.4"/>
<circle cx="562.37" cy="332.25" r="2.30" fill="none" stroke="#000" stroke-width="1.4"/>
<circle cx="577.63" cy="338.12" r="2.30" fill="none" stroke="#000" stroke-width="1.4"/>
<circle cx="569.88" cy="339.30" r="2.30" fill="none" stroke="#000" stroke-width="1.4"/>
<circle cx="565.89" cy="345.16" r="2.30" fill="none" stroke="#000" stroke-width="1.4"/>
<circle cx="573.64" cy="349.86" r="2.30" fill="none" stroke="#000" stroke-width="1.4"/>
<circle cx="569.88" cy="378.50" r="2.30" fill="none" stroke="#000" stroke-width="1.4"/>
<circle cx="604.39" cy="305.96" r="2.30" fill="none" stroke="#000" stroke-width="1.4"/>
<circle cx="604.39" cy="316.53" r="2.30" fill="none" stroke="#000" stroke-width="1.4"/>
<circle cx="604.39" cy="334.13" r="2.30" fill="none" stroke="#000" stroke-width="1.4"/>
<circle cx="595.23" cy="349.86" r="2.30" fill="none" stroke="#000" stroke-width="1.4"/>
<circle cx="601.10" cy="352.21" r="2.30" fill="none" stroke="#000" stroke-width="1.4"/>
<circle cx="606.97" cy="354.55" r="2.30" fill="none" stroke="#000" stroke-width="1.4"/>
<circle cx="612.84" cy="349.86" r="2.30" fill="none" stroke="#000" stroke-width="1.4"/>
<circle cx="608.15" cy="369.81" r="2.30" fill="none" stroke="#000" stroke-width="1.4"/>
<circle cx="600.40" cy="373.33" r="2.30" fill="none" stroke="#000" stroke-width="1.4"/>
<circle cx="635.14" cy="327.56" r="2.30" fill="none" stroke="#000" stroke-width="1.4"/>
<circle cx="638.66" cy="324.74" r="2.30" fill="none" stroke="#000" stroke-width="1.4"/>
<circle cx="642.65" cy="334.13" r="2.30" fill="none" stroke="#000" stroke-width="1.4"/>
<circle cx="630.92" cy="348.22" r="2.30" fill="none" stroke="#000" stroke-width="1.4"/>
<circle cx="645.94" cy="351.03" r="2.30" fill="none" stroke="#000" stroke-width="1.4"/>
<circle cx="638.66" cy="355.73" r="2.30" fill="none" stroke="#000" stroke-width="1.4"/>
<circle cx="638.66" cy="367.00" r="2.30" fill="none" stroke="#000" stroke-width="1.4"/>
<circle cx="634.67" cy="378.03" r="2.30" fill="none" stroke="#000" stroke-width="1.4"/>
<circle cx="642.65" cy="377.32" r="2.30" fill="none" stroke="#000" stroke-width="1.4"/>
<circle cx="676.92" cy="327.09" r="2.30" fill="none" stroke="#000" stroke-width="1.4"/>
<circle cx="665.66" cy="334.13" r="2.30" fill="none" stroke="#000" stroke-width="1.4"/>
<circle cx="669.18" cy="340.47" r="2.30" fill="none" stroke="#000" stroke-width="1.4"/>
<circle cx="676.92" cy="344.69" r="2.30" fill="none" stroke="#000" stroke-width="1.4"/>
<circle cx="669.18" cy="356.90" r="2.30" fill="none" stroke="#000" stroke-width="1.4"/>
<circle cx="676.92" cy="363.94" r="2.30" fill="none" stroke="#000" stroke-width="1.4"/>
<circle cx="673.17" cy="372.16" r="2.30" fill="none" stroke="#000" stroke-width="1.4"/>
<circle cx="676.92" cy="375.68" r="2.30" fill="none" stroke="#000" stroke-width="1.4"/>
<circle cx="669.18" cy="379.91" r="2.30" fill="none" stroke="#000" stroke-width="1.4"/>
<line x1="443.80" y1="277.20" x2="443.80" y2="478.30" stroke="#000" stroke-width="1.8"/>
<line x1="439.20" y1="477.30" x2="696.77" y2="477.30" stroke="#000" stroke-width="2"/>
<text x="436.50" y="481.90" font-size="13" font-weight="bold" text-anchor="end" textLength="7.25" lengthAdjust="spacingAndGlyphs">0</text>
<line x1="439.20" y1="410.87" x2="443.80" y2="410.87" stroke="#000" stroke-width="1.6"/>
<text x="436.50" y="415.47" font-size="13" font-weight="bold" text-anchor="end" textLength="21.75" lengthAdjust="spacingAndGlyphs">100</text>
<line x1="439.20" y1="344.43" x2="443.80" y2="344.43" stroke="#000" stroke-width="1.6"/>
<text x="436.50" y="349.03" font-size="13" font-weight="bold" text-anchor="end" textLength="21.75" lengthAdjust="spacingAndGlyphs">200</text>
<line x1="439.20" y1="278.00" x2="443.80" y2="278.00" stroke="#000" stroke-width="1.6"/>
<text x="436.50" y="282.60" font-size="13" font-weight="bold" text-anchor="end" textLength="21.75" lengthAdjust="spacingAndGlyphs">300</text>
<line x1="466.60" y1="477.30" x2="466.60" y2="482.10" stroke="#000" stroke-width="1.6"/>
<line x1="500.87" y1="477.30" x2="500.87" y2="482.10" stroke="#000" stroke-width="1.6"/>
<line x1="535.38" y1="477.30" x2="535.38" y2="482.10" stroke="#000" stroke-width="1.6"/>
<line x1="569.88" y1="477.30" x2="569.88" y2="482.10" stroke="#000" stroke-width="1.6"/>
<line x1="604.39" y1="477.30" x2="604.39" y2="482.10" stroke="#000" stroke-width="1.6"/>
<line x1="638.66" y1="477.30" x2="638.66" y2="482.10" stroke="#000" stroke-width="1.6"/>
<line x1="673.17" y1="477.30" x2="673.17" y2="482.10" stroke="#000" stroke-width="1.6"/>
<text x="466.60" y="496.10" font-size="13" font-weight="bold" text-anchor="middle" textLength="19.5" lengthAdjust="spacingAndGlyphs">ND</text>
<text x="500.87" y="496.10" font-size="13" font-weight="bold" text-anchor="middle" textLength="28.0" lengthAdjust="spacingAndGlyphs">HFD</text>
<text x="535.38" y="496.10" font-size="13" font-weight="bold" text-anchor="middle" textLength="27.5" lengthAdjust="spacingAndGlyphs">FXT</text>
<text x="569.88" y="496.10" font-size="13" font-weight="bold" text-anchor="middle" textLength="24.0" lengthAdjust="spacingAndGlyphs">SIM</text>
<text x="604.39" y="496.10" font-size="13" font-weight="bold" text-anchor="middle" textLength="16.0" lengthAdjust="spacingAndGlyphs">30</text>
<text x="638.66" y="496.10" font-size="13" font-weight="bold" text-anchor="middle" textLength="24.0" lengthAdjust="spacingAndGlyphs">100</text>
<text x="673.17" y="496.10" font-size="13" font-weight="bold" text-anchor="middle" textLength="24.0" lengthAdjust="spacingAndGlyphs">300</text>
<line x1="591.40" y1="499.80" x2="687.00" y2="499.80" stroke="#000" stroke-width="2"/>
<text x="638.90" y="515.70" font-size="13" font-weight="bold" text-anchor="middle" textLength="94.0" lengthAdjust="spacingAndGlyphs">BTS (mg/kg/d)</text>
<line x1="521.80" y1="523.50" x2="690.20" y2="523.50" stroke="#000" stroke-width="2"/>
<text x="605.40" y="539.10" font-size="13" font-weight="bold" text-anchor="middle" textLength="36.0" lengthAdjust="spacingAndGlyphs">+HFD</text>
<text x="403.50" y="376.80" font-size="13.3" font-weight="bold" text-anchor="middle" textLength="103.5" lengthAdjust="spacingAndGlyphs" transform="rotate(-90 403.50 376.80)">Glucose (mg/dl)</text>
<path d="M463.78,297.49 L463.78,294.69 L499.46,294.69 L499.46,297.49" fill="none" stroke="#3a3a3a" stroke-width="1.25"/>
<text x="482.12" y="296.99" font-size="17" font-weight="bold" text-anchor="middle" textLength="14.6" lengthAdjust="spacing">**</text>
<rect x="814.45" y="393.33" width="21.00" height="78.27" fill="#ffffff" stroke="#000" stroke-width="1.7"/>
<rect x="849.19" y="349.67" width="21.00" height="121.93" fill="#646464" stroke="#000" stroke-width="1.7"/>
<rect x="883.70" y="355.77" width="21.00" height="115.83" fill="#d5d5d5" stroke="#000" stroke-width="1.7"/>
<rect x="918.44" y="369.39" width="21.00" height="102.21" fill="#eee5c6" stroke="#000" stroke-width="1.7"/>
<rect x="952.95" y="364.46" width="21.00" height="107.14" fill="#ffa0a0" stroke="#000" stroke-width="1.7"/>
<rect x="987.46" y="367.51" width="21.00" height="104.09" fill="#ff3d3d" stroke="#000" stroke-width="1.7"/>
<rect x="1021.73" y="375.49" width="21.00" height="96.11" fill="#c30000" stroke="#000" stroke-width="1.7"/>
<line x1="824.95" y1="393.33" x2="824.95" y2="381.60" stroke="#555" stroke-width="1.15"/>
<line x1="819.45" y1="381.60" x2="830.45" y2="381.60" stroke="#333" stroke-width="1.5"/>
<line x1="859.69" y1="349.67" x2="859.69" y2="334.65" stroke="#555" stroke-width="1.15"/>
<line x1="854.19" y1="334.65" x2="865.19" y2="334.65" stroke="#333" stroke-width="1.5"/>
<line x1="894.20" y1="355.77" x2="894.20" y2="342.16" stroke="#555" stroke-width="1.15"/>
<line x1="888.70" y1="342.16" x2="899.70" y2="342.16" stroke="#333" stroke-width="1.5"/>
<line x1="928.94" y1="369.39" x2="928.94" y2="356.24" stroke="#555" stroke-width="1.15"/>
<line x1="923.44" y1="356.24" x2="934.44" y2="356.24" stroke="#333" stroke-width="1.5"/>
<line x1="963.45" y1="364.46" x2="963.45" y2="354.37" stroke="#555" stroke-width="1.15"/>
<line x1="957.95" y1="354.37" x2="968.95" y2="354.37" stroke="#333" stroke-width="1.5"/>
<line x1="997.96" y1="367.51" x2="997.96" y2="349.91" stroke="#555" stroke-width="1.15"/>
<line x1="992.46" y1="349.91" x2="1003.46" y2="349.91" stroke="#333" stroke-width="1.5"/>
<line x1="1032.23" y1="375.49" x2="1032.23" y2="365.63" stroke="#555" stroke-width="1.15"/>
<line x1="1026.73" y1="365.63" x2="1037.73" y2="365.63" stroke="#333" stroke-width="1.5"/>
<circle cx="817.91" cy="375.73" r="2.30" fill="none" stroke="#000" stroke-width="1.4"/>
<circle cx="825.66" cy="381.60" r="2.30" fill="none" stroke="#000" stroke-width="1.4"/>
<circle cx="832.70" cy="378.08" r="2.30" fill="none" stroke="#000" stroke-width="1.4"/>
<circle cx="813.92" cy="396.15" r="2.30" fill="none" stroke="#000" stroke-width="1.4"/>
<circle cx="821.43" cy="395.68" r="2.30" fill="none" stroke="#000" stroke-width="1.4"/>
<circle cx="833.17" cy="391.92" r="2.30" fill="none" stroke="#000" stroke-width="1.4"/>
<circle cx="817.91" cy="402.02" r="2.30" fill="none" stroke="#000" stroke-width="1.4"/>
<circle cx="824.95" cy="402.02" r="2.30" fill="none" stroke="#000" stroke-width="1.4"/>
<circle cx="832.00" cy="402.02" r="2.30" fill="none" stroke="#000" stroke-width="1.4"/>
<circle cx="859.69" cy="322.21" r="2.30" fill="none" stroke="#000" stroke-width="1.4"/>
<circle cx="851.95" cy="340.28" r="2.30" fill="none" stroke="#000" stroke-width="1.4"/>
<circle cx="859.69" cy="342.16" r="2.30" fill="none" stroke="#000" stroke-width="1.4"/>
<circle cx="867.21" cy="340.28" r="2.30" fill="none" stroke="#000" stroke-width="1.4"/>
<circle cx="851.48" cy="353.43" r="2.30" fill="none" stroke="#000" stroke-width="1.4"/>
<circle cx="859.69" cy="354.37" r="2.30" fill="none" stroke="#000" stroke-width="1.4"/>
<circle cx="868.38" cy="353.90" r="2.30" fill="none" stroke="#000" stroke-width="1.4"/>
<circle cx="861.34" cy="360.94" r="2.30" fill="none" stroke="#000" stroke-width="1.4"/>
<circle cx="859.69" cy="369.86" r="2.30" fill="none" stroke="#000" stroke-width="1.4"/>
<circle cx="894.20" cy="335.82" r="2.30" fill="none" stroke="#000" stroke-width="1.4"/>
<circle cx="885.99" cy="344.04" r="2.30" fill="none" stroke="#000" stroke-width="1.4"/>
<circle cx="894.20" cy="348.03" r="2.30" fill="none" stroke="#000" stroke-width="1.4"/>
<circle cx="903.12" cy="344.04" r="2.30" fill="none" stroke="#000" stroke-width="1.4"/>
<circle cx="887.16" cy="356.24" r="2.30" fill="none" stroke="#000" stroke-width="1.4"/>
<circle cx="894.20" cy="355.77" r="2.30" fill="none" stroke="#000" stroke-width="1.4"/>
<circle cx="901.24" cy="356.24" r="2.30" fill="none" stroke="#000" stroke-width="1.4"/>
<circle cx="885.99" cy="366.10" r="2.30" fill="none" stroke="#000" stroke-width="1.4"/>
<circle cx="894.20" cy="365.63" r="2.30" fill="none" stroke="#000" stroke-width="1.4"/>
<circle cx="901.24" cy="366.10" r="2.30" fill="none" stroke="#000" stroke-width="1.4"/>
<circle cx="894.20" cy="378.54" r="2.30" fill="none" stroke="#000" stroke-width="1.4"/>
<circle cx="928.94" cy="352.02" r="2.30" fill="none" stroke="#000" stroke-width="1.4"/>
<circle cx="921.20" cy="358.12" r="2.30" fill="none" stroke="#000" stroke-width="1.4"/>
<circle cx="936.46" cy="358.12" r="2.30" fill="none" stroke="#000" stroke-width="1.4"/>
<circle cx="928.94" cy="362.11" r="2.30" fill="none" stroke="#000" stroke-width="1.4"/>
<circle cx="921.20" cy="372.21" r="2.30" fill="none" stroke="#000" stroke-width="1.4"/>
<circle cx="928.94" cy="372.21" r="2.30" fill="none" stroke="#000" stroke-width="1.4"/>
<circle cx="932.93" cy="380.19" r="2.30" fill="none" stroke="#000" stroke-width="1.4"/>
<circle cx="928.94" cy="390.28" r="2.30" fill="none" stroke="#000" stroke-width="1.4"/>
<circle cx="966.97" cy="349.91" r="2.30" fill="none" stroke="#000" stroke-width="1.4"/>
<circle cx="958.76" cy="353.90" r="2.30" fill="none" stroke="#000" stroke-width="1.4"/>
<circle cx="955.23" cy="360.47" r="2.30" fill="none" stroke="#000" stroke-width="1.4"/>
<circle cx="963.45" cy="358.59" r="2.30" fill="none" stroke="#000" stroke-width="1.4"/>
<circle cx="970.49" cy="360.47" r="2.30" fill="none" stroke="#000" stroke-width="1.4"/>
<circle cx="966.97" cy="364.46" r="2.30" fill="none" stroke="#000" stroke-width="1.4"/>
<circle cx="955.23" cy="375.02" r="2.30" fill="none" stroke="#000" stroke-width="1.4"/>
<circle cx="963.45" cy="376.67" r="2.30" fill="none" stroke="#000" stroke-width="1.4"/>
<circle cx="970.49" cy="374.55" r="2.30" fill="none" stroke="#000" stroke-width="1.4"/>
<circle cx="997.96" cy="332.30" r="2.30" fill="none" stroke="#000" stroke-width="1.4"/>
<circle cx="997.96" cy="349.91" r="2.30" fill="none" stroke="#000" stroke-width="1.4"/>
<circle cx="997.96" cy="360.47" r="2.30" fill="none" stroke="#000" stroke-width="1.4"/>
<circle cx="997.96" cy="368.45" r="2.30" fill="none" stroke="#000" stroke-width="1.4"/>
<circle cx="990.45" cy="372.68" r="2.30" fill="none" stroke="#000" stroke-width="1.4"/>
<circle cx="1005.70" cy="372.68" r="2.30" fill="none" stroke="#000" stroke-width="1.4"/>
<circle cx="993.97" cy="379.25" r="2.30" fill="none" stroke="#000" stroke-width="1.4"/>
<circle cx="1001.71" cy="380.19" r="2.30" fill="none" stroke="#000" stroke-width="1.4"/>
<circle cx="993.97" cy="386.76" r="2.30" fill="none" stroke="#000" stroke-width="1.4"/>
<circle cx="1032.23" cy="356.24" r="2.30" fill="none" stroke="#000" stroke-width="1.4"/>
<circle cx="1039.74" cy="365.63" r="2.30" fill="none" stroke="#000" stroke-width="1.4"/>
<circle cx="1025.66" cy="370.33" r="2.30" fill="none" stroke="#000" stroke-width="1.4"/>
<circle cx="1032.23" cy="372.21" r="2.30" fill="none" stroke="#000" stroke-width="1.4"/>
<circle cx="1039.27" cy="372.21" r="2.30" fill="none" stroke="#000" stroke-width="1.4"/>
<circle cx="1024.48" cy="377.37" r="2.30" fill="none" stroke="#000" stroke-width="1.4"/>
<circle cx="1029.18" cy="381.60" r="2.30" fill="none" stroke="#000" stroke-width="1.4"/>
<circle cx="1035.05" cy="382.07" r="2.30" fill="none" stroke="#000" stroke-width="1.4"/>
<circle cx="1039.74" cy="382.07" r="2.30" fill="none" stroke="#000" stroke-width="1.4"/>
<line x1="802.40" y1="271.50" x2="802.40" y2="472.60" stroke="#000" stroke-width="1.8"/>
<line x1="797.80" y1="471.60" x2="1055.83" y2="471.60" stroke="#000" stroke-width="2"/>
<text x="795.10" y="476.20" font-size="13" font-weight="bold" text-anchor="end" textLength="7.25" lengthAdjust="spacingAndGlyphs">0</text>
<line x1="797.80" y1="421.78" x2="802.40" y2="421.78" stroke="#000" stroke-width="1.6"/>
<text x="795.10" y="426.38" font-size="13" font-weight="bold" text-anchor="end" textLength="14.5" lengthAdjust="spacingAndGlyphs">50</text>
<line x1="797.80" y1="371.95" x2="802.40" y2="371.95" stroke="#000" stroke-width="1.6"/>
<text x="795.10" y="376.55" font-size="13" font-weight="bold" text-anchor="end" textLength="21.75" lengthAdjust="spacingAndGlyphs">100</text>
<line x1="797.80" y1="322.12" x2="802.40" y2="322.12" stroke="#000" stroke-width="1.6"/>
<text x="795.10" y="326.73" font-size="13" font-weight="bold" text-anchor="end" textLength="21.75" lengthAdjust="spacingAndGlyphs">150</text>
<line x1="797.80" y1="272.30" x2="802.40" y2="272.30" stroke="#000" stroke-width="1.6"/>
<text x="795.10" y="276.90" font-size="13" font-weight="bold" text-anchor="end" textLength="21.75" lengthAdjust="spacingAndGlyphs">200</text>
<line x1="824.95" y1="471.60" x2="824.95" y2="476.40" stroke="#000" stroke-width="1.6"/>
<line x1="859.69" y1="471.60" x2="859.69" y2="476.40" stroke="#000" stroke-width="1.6"/>
<line x1="894.20" y1="471.60" x2="894.20" y2="476.40" stroke="#000" stroke-width="1.6"/>
<line x1="928.94" y1="471.60" x2="928.94" y2="476.40" stroke="#000" stroke-width="1.6"/>
<line x1="963.45" y1="471.60" x2="963.45" y2="476.40" stroke="#000" stroke-width="1.6"/>
<line x1="997.96" y1="471.60" x2="997.96" y2="476.40" stroke="#000" stroke-width="1.6"/>
<line x1="1032.23" y1="471.60" x2="1032.23" y2="476.40" stroke="#000" stroke-width="1.6"/>
<text x="824.95" y="490.40" font-size="13" font-weight="bold" text-anchor="middle" textLength="19.5" lengthAdjust="spacingAndGlyphs">ND</text>
<text x="859.69" y="490.40" font-size="13" font-weight="bold" text-anchor="middle" textLength="28.0" lengthAdjust="spacingAndGlyphs">HFD</text>
<text x="894.20" y="490.40" font-size="13" font-weight="bold" text-anchor="middle" textLength="27.5" lengthAdjust="spacingAndGlyphs">FXT</text>
<text x="928.94" y="490.40" font-size="13" font-weight="bold" text-anchor="middle" textLength="24.0" lengthAdjust="spacingAndGlyphs">SIM</text>
<text x="963.45" y="490.40" font-size="13" font-weight="bold" text-anchor="middle" textLength="16.0" lengthAdjust="spacingAndGlyphs">30</text>
<text x="997.96" y="490.40" font-size="13" font-weight="bold" text-anchor="middle" textLength="24.0" lengthAdjust="spacingAndGlyphs">100</text>
<text x="1032.23" y="490.40" font-size="13" font-weight="bold" text-anchor="middle" textLength="24.0" lengthAdjust="spacingAndGlyphs">300</text>
<line x1="950.10" y1="493.90" x2="1045.90" y2="493.90" stroke="#000" stroke-width="2"/>
<text x="998.30" y="509.30" font-size="13" font-weight="bold" text-anchor="middle" textLength="94.0" lengthAdjust="spacingAndGlyphs">BTS (mg/kg/d)</text>
<line x1="880.50" y1="517.70" x2="1049.30" y2="517.70" stroke="#000" stroke-width="2"/>
<text x="964.80" y="533.00" font-size="13" font-weight="bold" text-anchor="middle" textLength="36.0" lengthAdjust="spacingAndGlyphs">+HFD</text>
<text x="762.60" y="371.70" font-size="13.3" font-weight="bold" text-anchor="middle" textLength="93" lengthAdjust="spacingAndGlyphs" transform="rotate(-90 762.60 371.70)">TCHO &#160;(mg/dl)</text>
<path d="M823.78,314.44 L823.78,311.64 L858.52,311.64 L858.52,314.44" fill="none" stroke="#3a3a3a" stroke-width="1.25"/>
<text x="841.65" y="313.94" font-size="17" font-weight="bold" text-anchor="middle" textLength="21.9" lengthAdjust="spacing">***</text>
<path d="M860.87,314.44 L860.87,311.64 L929.41,311.64 L929.41,314.44" fill="none" stroke="#3a3a3a" stroke-width="1.25"/>
<text x="895.64" y="309.84" font-size="12" font-weight="bold" text-anchor="middle" font-style="italic" textLength="13.8" lengthAdjust="spacingAndGlyphs">##</text>
<path d="M859.46,299.65 L859.46,296.85 L965.33,296.85 L965.33,299.65" fill="none" stroke="#3a3a3a" stroke-width="1.25"/>
<text x="914.19" y="294.15" font-size="11" font-weight="bold" text-anchor="middle" font-style="italic" textLength="37.5" lengthAdjust="spacingAndGlyphs">p=0.06</text>
<path d="M859.46,286.27 L859.46,283.47 L999.37,283.47 L999.37,286.27" fill="none" stroke="#3a3a3a" stroke-width="1.25"/>
<text x="929.91" y="281.67" font-size="12" font-weight="bold" text-anchor="middle" font-style="italic" textLength="6.9" lengthAdjust="spacingAndGlyphs">#</text>
<path d="M859.46,272.66 L859.46,269.86 L1033.17,269.86 L1033.17,272.66" fill="none" stroke="#3a3a3a" stroke-width="1.25"/>
<text x="946.81" y="268.06" font-size="12" font-weight="bold" text-anchor="middle" font-style="italic" textLength="20.700000000000003" lengthAdjust="spacingAndGlyphs">###</text>
<rect x="90.93" y="729.81" width="21.00" height="81.19" fill="#ffffff" stroke="#000" stroke-width="1.7"/>
<rect x="125.44" y="697.89" width="21.00" height="113.11" fill="#646464" stroke="#000" stroke-width="1.7"/>
<rect x="159.71" y="704.93" width="21.00" height="106.07" fill="#d5d5d5" stroke="#000" stroke-width="1.7"/>
<rect x="194.22" y="715.73" width="21.00" height="95.27" fill="#eee5c6" stroke="#000" stroke-width="1.7"/>
<rect x="228.73" y="710.33" width="21.00" height="100.67" fill="#ffa0a0" stroke="#000" stroke-width="1.7"/>
<rect x="263.00" y="725.12" width="21.00" height="85.88" fill="#ff3d3d" stroke="#000" stroke-width="1.7"/>
<rect x="297.50" y="731.46" width="21.00" height="79.54" fill="#c30000" stroke="#000" stroke-width="1.7"/>
<line x1="101.43" y1="729.81" x2="101.43" y2="724.88" stroke="#555" stroke-width="1.15"/>
<line x1="95.93" y1="724.88" x2="106.93" y2="724.88" stroke="#333" stroke-width="1.5"/>
<line x1="135.94" y1="697.89" x2="135.94" y2="676.29" stroke="#555" stroke-width="1.15"/>
<line x1="130.44" y1="676.29" x2="141.44" y2="676.29" stroke="#333" stroke-width="1.5"/>
<line x1="170.21" y1="704.93" x2="170.21" y2="671.13" stroke="#555" stroke-width="1.15"/>
<line x1="164.71" y1="671.13" x2="175.71" y2="671.13" stroke="#333" stroke-width="1.5"/>
<line x1="204.72" y1="715.73" x2="204.72" y2="703.29" stroke="#555" stroke-width="1.15"/>
<line x1="199.22" y1="703.29" x2="210.22" y2="703.29" stroke="#333" stroke-width="1.5"/>
<line x1="239.23" y1="710.33" x2="239.23" y2="688.03" stroke="#555" stroke-width="1.15"/>
<line x1="233.73" y1="688.03" x2="244.73" y2="688.03" stroke="#333" stroke-width="1.5"/>
<line x1="273.50" y1="725.12" x2="273.50" y2="711.50" stroke="#555" stroke-width="1.15"/>
<line x1="268.00" y1="711.50" x2="279.00" y2="711.50" stroke="#333" stroke-width="1.5"/>
<line x1="308.00" y1="731.46" x2="308.00" y2="713.85" stroke="#555" stroke-width="1.15"/>
<line x1="302.50" y1="713.85" x2="313.50" y2="713.85" stroke="#333" stroke-width="1.5"/>
<circle cx="92.51" cy="717.37" r="2.30" fill="none" stroke="#000" stroke-width="1.4"/>
<circle cx="97.91" cy="723.00" r="2.30" fill="none" stroke="#000" stroke-width="1.4"/>
<circle cx="103.78" cy="723.00" r="2.30" fill="none" stroke="#000" stroke-width="1.4"/>
<circle cx="109.88" cy="720.42" r="2.30" fill="none" stroke="#000" stroke-width="1.4"/>
<circle cx="93.92" cy="733.80" r="2.30" fill="none" stroke="#000" stroke-width="1.4"/>
<circle cx="99.55" cy="734.98" r="2.30" fill="none" stroke="#000" stroke-width="1.4"/>
<circle cx="104.95" cy="735.68" r="2.30" fill="none" stroke="#000" stroke-width="1.4"/>
<circle cx="108.94" cy="735.68" r="2.30" fill="none" stroke="#000" stroke-width="1.4"/>
<circle cx="101.43" cy="738.97" r="2.30" fill="none" stroke="#000" stroke-width="1.4"/>
<circle cx="131.95" cy="659.15" r="2.30" fill="none" stroke="#000" stroke-width="1.4"/>
<circle cx="139.69" cy="662.21" r="2.30" fill="none" stroke="#000" stroke-width="1.4"/>
<circle cx="131.95" cy="701.64" r="2.30" fill="none" stroke="#000" stroke-width="1.4"/>
<circle cx="139.69" cy="701.64" r="2.30" fill="none" stroke="#000" stroke-width="1.4"/>
<circle cx="127.25" cy="706.81" r="2.30" fill="none" stroke="#000" stroke-width="1.4"/>
<circle cx="135.94" cy="709.15" r="2.30" fill="none" stroke="#000" stroke-width="1.4"/>
<circle cx="144.86" cy="706.81" r="2.30" fill="none" stroke="#000" stroke-width="1.4"/>
<circle cx="131.95" cy="710.33" r="2.30" fill="none" stroke="#000" stroke-width="1.4"/>
<circle cx="139.69" cy="710.33" r="2.30" fill="none" stroke="#000" stroke-width="1.4"/>
<circle cx="135.94" cy="717.37" r="2.30" fill="none" stroke="#000" stroke-width="1.4"/>
<circle cx="166.69" cy="648.83" r="2.30" fill="none" stroke="#000" stroke-width="1.4"/>
<circle cx="174.20" cy="643.43" r="2.30" fill="none" stroke="#000" stroke-width="1.4"/>
<circle cx="166.69" cy="699.06" r="2.30" fill="none" stroke="#000" stroke-width="1.4"/>
<circle cx="174.20" cy="699.06" r="2.30" fill="none" stroke="#000" stroke-width="1.4"/>
<circle cx="170.21" cy="712.68" r="2.30" fill="none" stroke="#000" stroke-width="1.4"/>
<circle cx="170.21" cy="722.54" r="2.30" fill="none" stroke="#000" stroke-width="1.4"/>
<circle cx="178.90" cy="725.59" r="2.30" fill="none" stroke="#000" stroke-width="1.4"/>
<circle cx="161.29" cy="731.46" r="2.30" fill="none" stroke="#000" stroke-width="1.4"/>
<circle cx="167.16" cy="731.46" r="2.30" fill="none" stroke="#000" stroke-width="1.4"/>
<circle cx="173.03" cy="731.46" r="2.30" fill="none" stroke="#000" stroke-width="1.4"/>
<circle cx="204.72" cy="693.90" r="2.30" fill="none" stroke="#000" stroke-width="1.4"/>
<circle cx="201.20" cy="699.06" r="2.30" fill="none" stroke="#000" stroke-width="1.4"/>
<circle cx="208.71" cy="701.64" r="2.30" fill="none" stroke="#000" stroke-width="1.4"/>
<circle cx="197.21" cy="709.15" r="2.30" fill="none" stroke="#000" stroke-width="1.4"/>
<circle cx="212.46" cy="712.68" r="2.30" fill="none" stroke="#000" stroke-width="1.4"/>
<circle cx="204.72" cy="715.02" r="2.30" fill="none" stroke="#000" stroke-width="1.4"/>
<circle cx="201.20" cy="726.06" r="2.30" fill="none" stroke="#000" stroke-width="1.4"/>
<circle cx="208.71" cy="731.46" r="2.30" fill="none" stroke="#000" stroke-width="1.4"/>
<circle cx="204.72" cy="746.71" r="2.30" fill="none" stroke="#000" stroke-width="1.4"/>
<circle cx="239.23" cy="672.77" r="2.30" fill="none" stroke="#000" stroke-width="1.4"/>
<circle cx="235.23" cy="688.73" r="2.30" fill="none" stroke="#000" stroke-width="1.4"/>
<circle cx="242.98" cy="686.15" r="2.30" fill="none" stroke="#000" stroke-width="1.4"/>
<circle cx="246.50" cy="715.02" r="2.30" fill="none" stroke="#000" stroke-width="1.4"/>
<circle cx="231.71" cy="720.89" r="2.30" fill="none" stroke="#000" stroke-width="1.4"/>
<circle cx="239.23" cy="720.89" r="2.30" fill="none" stroke="#000" stroke-width="1.4"/>
<circle cx="231.71" cy="728.64" r="2.30" fill="none" stroke="#000" stroke-width="1.4"/>
<circle cx="239.23" cy="731.46" r="2.30" fill="none" stroke="#000" stroke-width="1.4"/>
<circle cx="246.50" cy="728.64" r="2.30" fill="none" stroke="#000" stroke-width="1.4"/>
<circle cx="273.50" cy="706.81" r="2.30" fill="none" stroke="#000" stroke-width="1.4"/>
<circle cx="266.22" cy="715.02" r="2.30" fill="none" stroke="#000" stroke-width="1.4"/>
<circle cx="281.01" cy="712.68" r="2.30" fill="none" stroke="#000" stroke-width="1.4"/>
<circle cx="273.50" cy="717.37" r="2.30" fill="none" stroke="#000" stroke-width="1.4"/>
<circle cx="269.98" cy="723.24" r="2.30" fill="none" stroke="#000" stroke-width="1.4"/>
<circle cx="277.49" cy="723.24" r="2.30" fill="none" stroke="#000" stroke-width="1.4"/>
<circle cx="273.50" cy="735.68" r="2.30" fill="none" stroke="#000" stroke-width="1.4"/>
<circle cx="269.98" cy="743.66" r="2.30" fill="none" stroke="#000" stroke-width="1.4"/>
<circle cx="277.49" cy="739.67" r="2.30" fill="none" stroke="#000" stroke-width="1.4"/>
<circle cx="308.00" cy="707.28" r="2.30" fill="none" stroke="#000" stroke-width="1.4"/>
<circle cx="299.08" cy="717.84" r="2.30" fill="none" stroke="#000" stroke-width="1.4"/>
<circle cx="316.92" cy="717.84" r="2.30" fill="none" stroke="#000" stroke-width="1.4"/>
<circle cx="310.35" cy="720.89" r="2.30" fill="none" stroke="#000" stroke-width="1.4"/>
<circle cx="304.48" cy="723.24" r="2.30" fill="none" stroke="#000" stroke-width="1.4"/>
<circle cx="308.00" cy="744.37" r="2.30" fill="none" stroke="#000" stroke-width="1.4"/>
<circle cx="300.49" cy="747.42" r="2.30" fill="none" stroke="#000" stroke-width="1.4"/>
<circle cx="315.05" cy="747.42" r="2.30" fill="none" stroke="#000" stroke-width="1.4"/>
<circle cx="308.00" cy="750.23" r="2.30" fill="none" stroke="#000" stroke-width="1.4"/>
<line x1="79.10" y1="610.40" x2="79.10" y2="812.00" stroke="#000" stroke-width="1.8"/>
<line x1="74.50" y1="811.00" x2="331.60" y2="811.00" stroke="#000" stroke-width="2"/>
<text x="71.80" y="815.60" font-size="13" font-weight="bold" text-anchor="end" textLength="7.25" lengthAdjust="spacingAndGlyphs">0</text>
<line x1="74.50" y1="744.40" x2="79.10" y2="744.40" stroke="#000" stroke-width="1.6"/>
<text x="71.80" y="749.00" font-size="13" font-weight="bold" text-anchor="end" textLength="14.5" lengthAdjust="spacingAndGlyphs">50</text>
<line x1="74.50" y1="677.80" x2="79.10" y2="677.80" stroke="#000" stroke-width="1.6"/>
<text x="71.80" y="682.40" font-size="13" font-weight="bold" text-anchor="end" textLength="21.75" lengthAdjust="spacingAndGlyphs">100</text>
<line x1="74.50" y1="611.20" x2="79.10" y2="611.20" stroke="#000" stroke-width="1.6"/>
<text x="71.80" y="615.80" font-size="13" font-weight="bold" text-anchor="end" textLength="21.75" lengthAdjust="spacingAndGlyphs">150</text>
<line x1="101.43" y1="811.00" x2="101.43" y2="815.80" stroke="#000" stroke-width="1.6"/>
<line x1="135.94" y1="811.00" x2="135.94" y2="815.80" stroke="#000" stroke-width="1.6"/>
<line x1="170.21" y1="811.00" x2="170.21" y2="815.80" stroke="#000" stroke-width="1.6"/>
<line x1="204.72" y1="811.00" x2="204.72" y2="815.80" stroke="#000" stroke-width="1.6"/>
<line x1="239.23" y1="811.00" x2="239.23" y2="815.80" stroke="#000" stroke-width="1.6"/>
<line x1="273.50" y1="811.00" x2="273.50" y2="815.80" stroke="#000" stroke-width="1.6"/>
<line x1="308.00" y1="811.00" x2="308.00" y2="815.80" stroke="#000" stroke-width="1.6"/>
<text x="101.43" y="829.40" font-size="13" font-weight="bold" text-anchor="middle" textLength="19.5" lengthAdjust="spacingAndGlyphs">ND</text>
<text x="135.94" y="829.40" font-size="13" font-weight="bold" text-anchor="middle" textLength="28.0" lengthAdjust="spacingAndGlyphs">HFD</text>
<text x="170.21" y="829.40" font-size="13" font-weight="bold" text-anchor="middle" textLength="27.5" lengthAdjust="spacingAndGlyphs">FXT</text>
<text x="204.72" y="829.40" font-size="13" font-weight="bold" text-anchor="middle" textLength="24.0" lengthAdjust="spacingAndGlyphs">SIM</text>
<text x="239.23" y="829.40" font-size="13" font-weight="bold" text-anchor="middle" textLength="16.0" lengthAdjust="spacingAndGlyphs">30</text>
<text x="273.50" y="829.40" font-size="13" font-weight="bold" text-anchor="middle" textLength="24.0" lengthAdjust="spacingAndGlyphs">100</text>
<text x="308.00" y="829.40" font-size="13" font-weight="bold" text-anchor="middle" textLength="24.0" lengthAdjust="spacingAndGlyphs">300</text>
<line x1="226.30" y1="832.80" x2="322.00" y2="832.80" stroke="#000" stroke-width="2"/>
<text x="274.50" y="848.20" font-size="13" font-weight="bold" text-anchor="middle" textLength="94.0" lengthAdjust="spacingAndGlyphs">BTS (mg/kg/d)</text>
<line x1="157.30" y1="856.90" x2="325.40" y2="856.90" stroke="#000" stroke-width="2"/>
<text x="240.60" y="871.30" font-size="13" font-weight="bold" text-anchor="middle" textLength="36.0" lengthAdjust="spacingAndGlyphs">+HFD</text>
<text x="38.20" y="710.50" font-size="13.3" font-weight="bold" text-anchor="middle" textLength="73.5" lengthAdjust="spacingAndGlyphs" transform="rotate(-90 38.20 710.50)">TG &#160;(mg/dl)</text>
<path d="M97.91,651.39 L97.91,648.59 L133.83,648.59 L133.83,651.39" fill="none" stroke="#3a3a3a" stroke-width="1.25"/>
<text x="116.37" y="650.89" font-size="17" font-weight="bold" text-anchor="middle" textLength="14.6" lengthAdjust="spacing">**</text>
<path d="M138.52,640.36 L138.52,637.56 L274.67,637.56 L274.67,640.36" fill="none" stroke="#3a3a3a" stroke-width="1.25"/>
<text x="207.10" y="635.76" font-size="12" font-weight="bold" text-anchor="middle" font-style="italic" textLength="6.9" lengthAdjust="spacingAndGlyphs">#</text>
<path d="M138.52,622.75 L138.52,619.95 L309.88,619.95 L309.88,622.75" fill="none" stroke="#3a3a3a" stroke-width="1.25"/>
<text x="224.70" y="618.15" font-size="12" font-weight="bold" text-anchor="middle" font-style="italic" textLength="13.8" lengthAdjust="spacingAndGlyphs">##</text>
<rect x="455.46" y="723.85" width="21.00" height="86.95" fill="#ffffff" stroke="#000" stroke-width="1.7"/>
<rect x="489.97" y="667.04" width="21.00" height="143.76" fill="#646464" stroke="#000" stroke-width="1.7"/>
<rect x="524.48" y="667.98" width="21.00" height="142.82" fill="#d5d5d5" stroke="#000" stroke-width="1.7"/>
<rect x="559.22" y="670.56" width="21.00" height="140.24" fill="#eee5c6" stroke="#000" stroke-width="1.7"/>
<rect x="593.26" y="681.60" width="21.00" height="129.20" fill="#ffa0a0" stroke="#000" stroke-width="1.7"/>
<rect x="627.76" y="692.63" width="21.00" height="118.17" fill="#ff3d3d" stroke="#000" stroke-width="1.7"/>
<rect x="662.50" y="683.94" width="21.00" height="126.86" fill="#c30000" stroke="#000" stroke-width="1.7"/>
<line x1="465.96" y1="723.85" x2="465.96" y2="706.95" stroke="#555" stroke-width="1.15"/>
<line x1="460.46" y1="706.95" x2="471.46" y2="706.95" stroke="#333" stroke-width="1.5"/>
<line x1="500.47" y1="667.04" x2="500.47" y2="651.08" stroke="#555" stroke-width="1.15"/>
<line x1="494.97" y1="651.08" x2="505.97" y2="651.08" stroke="#333" stroke-width="1.5"/>
<line x1="534.98" y1="667.98" x2="534.98" y2="653.43" stroke="#555" stroke-width="1.15"/>
<line x1="529.48" y1="653.43" x2="540.48" y2="653.43" stroke="#333" stroke-width="1.5"/>
<line x1="569.72" y1="670.56" x2="569.72" y2="647.09" stroke="#555" stroke-width="1.15"/>
<line x1="564.22" y1="647.09" x2="575.22" y2="647.09" stroke="#333" stroke-width="1.5"/>
<line x1="603.76" y1="681.60" x2="603.76" y2="667.98" stroke="#555" stroke-width="1.15"/>
<line x1="598.26" y1="667.98" x2="609.26" y2="667.98" stroke="#333" stroke-width="1.5"/>
<line x1="638.26" y1="692.63" x2="638.26" y2="675.26" stroke="#555" stroke-width="1.15"/>
<line x1="632.76" y1="675.26" x2="643.76" y2="675.26" stroke="#333" stroke-width="1.5"/>
<line x1="673.00" y1="683.94" x2="673.00" y2="659.77" stroke="#555" stroke-width="1.15"/>
<line x1="667.50" y1="659.77" x2="678.50" y2="659.77" stroke="#333" stroke-width="1.5"/>
<circle cx="465.96" cy="691.46" r="2.30" fill="none" stroke="#000" stroke-width="1.4"/>
<circle cx="462.21" cy="712.82" r="2.30" fill="none" stroke="#000" stroke-width="1.4"/>
<circle cx="469.95" cy="709.06" r="2.30" fill="none" stroke="#000" stroke-width="1.4"/>
<circle cx="457.04" cy="726.67" r="2.30" fill="none" stroke="#000" stroke-width="1.4"/>
<circle cx="462.91" cy="730.89" r="2.30" fill="none" stroke="#000" stroke-width="1.4"/>
<circle cx="468.78" cy="732.07" r="2.30" fill="none" stroke="#000" stroke-width="1.4"/>
<circle cx="474.65" cy="726.67" r="2.30" fill="none" stroke="#000" stroke-width="1.4"/>
<circle cx="469.95" cy="735.12" r="2.30" fill="none" stroke="#000" stroke-width="1.4"/>
<circle cx="462.21" cy="740.99" r="2.30" fill="none" stroke="#000" stroke-width="1.4"/>
<circle cx="500.47" cy="641.22" r="2.30" fill="none" stroke="#000" stroke-width="1.4"/>
<circle cx="496.95" cy="649.20" r="2.30" fill="none" stroke="#000" stroke-width="1.4"/>
<circle cx="504.46" cy="653.43" r="2.30" fill="none" stroke="#000" stroke-width="1.4"/>
<circle cx="491.78" cy="669.86" r="2.30" fill="none" stroke="#000" stroke-width="1.4"/>
<circle cx="496.95" cy="671.03" r="2.30" fill="none" stroke="#000" stroke-width="1.4"/>
<circle cx="502.11" cy="671.03" r="2.30" fill="none" stroke="#000" stroke-width="1.4"/>
<circle cx="508.69" cy="669.15" r="2.30" fill="none" stroke="#000" stroke-width="1.4"/>
<circle cx="500.47" cy="679.25" r="2.30" fill="none" stroke="#000" stroke-width="1.4"/>
<circle cx="500.47" cy="691.46" r="2.30" fill="none" stroke="#000" stroke-width="1.4"/>
<circle cx="534.98" cy="646.85" r="2.30" fill="none" stroke="#000" stroke-width="1.4"/>
<circle cx="538.73" cy="651.08" r="2.30" fill="none" stroke="#000" stroke-width="1.4"/>
<circle cx="527.46" cy="654.60" r="2.30" fill="none" stroke="#000" stroke-width="1.4"/>
<circle cx="530.99" cy="659.30" r="2.30" fill="none" stroke="#000" stroke-width="1.4"/>
<circle cx="538.73" cy="663.52" r="2.30" fill="none" stroke="#000" stroke-width="1.4"/>
<circle cx="534.98" cy="672.91" r="2.30" fill="none" stroke="#000" stroke-width="1.4"/>
<circle cx="527.46" cy="678.08" r="2.30" fill="none" stroke="#000" stroke-width="1.4"/>
<circle cx="534.98" cy="679.72" r="2.30" fill="none" stroke="#000" stroke-width="1.4"/>
<circle cx="542.72" cy="675.73" r="2.30" fill="none" stroke="#000" stroke-width="1.4"/>
<circle cx="534.98" cy="691.46" r="2.30" fill="none" stroke="#000" stroke-width="1.4"/>
<circle cx="569.72" cy="637.46" r="2.30" fill="none" stroke="#000" stroke-width="1.4"/>
<circle cx="569.72" cy="645.68" r="2.30" fill="none" stroke="#000" stroke-width="1.4"/>
<circle cx="569.72" cy="653.43" r="2.30" fill="none" stroke="#000" stroke-width="1.4"/>
<circle cx="569.72" cy="663.52" r="2.30" fill="none" stroke="#000" stroke-width="1.4"/>
<circle cx="569.72" cy="671.50" r="2.30" fill="none" stroke="#000" stroke-width="1.4"/>
<circle cx="562.21" cy="683.24" r="2.30" fill="none" stroke="#000" stroke-width="1.4"/>
<circle cx="569.72" cy="685.59" r="2.30" fill="none" stroke="#000" stroke-width="1.4"/>
<circle cx="577.23" cy="680.89" r="2.30" fill="none" stroke="#000" stroke-width="1.4"/>
<circle cx="569.72" cy="710.94" r="2.30" fill="none" stroke="#000" stroke-width="1.4"/>
<circle cx="596.01" cy="660.94" r="2.30" fill="none" stroke="#000" stroke-width="1.4"/>
<circle cx="611.50" cy="663.29" r="2.30" fill="none" stroke="#000" stroke-width="1.4"/>
<circle cx="603.76" cy="666.81" r="2.30" fill="none" stroke="#000" stroke-width="1.4"/>
<circle cx="596.01" cy="686.29" r="2.30" fill="none" stroke="#000" stroke-width="1.4"/>
<circle cx="603.76" cy="685.59" r="2.30" fill="none" stroke="#000" stroke-width="1.4"/>
<circle cx="596.01" cy="690.99" r="2.30" fill="none" stroke="#000" stroke-width="1.4"/>
<circle cx="603.76" cy="693.33" r="2.30" fill="none" stroke="#000" stroke-width="1.4"/>
<circle cx="611.50" cy="690.99" r="2.30" fill="none" stroke="#000" stroke-width="1.4"/>
<circle cx="600.23" cy="692.16" r="2.30" fill="none" stroke="#000" stroke-width="1.4"/>
<circle cx="638.26" cy="665.16" r="2.30" fill="none" stroke="#000" stroke-width="1.4"/>
<circle cx="642.02" cy="671.50" r="2.30" fill="none" stroke="#000" stroke-width="1.4"/>
<circle cx="634.27" cy="677.37" r="2.30" fill="none" stroke="#000" stroke-width="1.4"/>
<circle cx="638.26" cy="691.46" r="2.30" fill="none" stroke="#000" stroke-width="1.4"/>
<circle cx="630.75" cy="701.08" r="2.30" fill="none" stroke="#000" stroke-width="1.4"/>
<circle cx="634.98" cy="703.43" r="2.30" fill="none" stroke="#000" stroke-width="1.4"/>
<circle cx="638.26" cy="707.42" r="2.30" fill="none" stroke="#000" stroke-width="1.4"/>
<circle cx="642.02" cy="705.07" r="2.30" fill="none" stroke="#000" stroke-width="1.4"/>
<circle cx="646.01" cy="703.43" r="2.30" fill="none" stroke="#000" stroke-width="1.4"/>
<circle cx="673.00" cy="637.46" r="2.30" fill="none" stroke="#000" stroke-width="1.4"/>
<circle cx="673.00" cy="663.52" r="2.30" fill="none" stroke="#000" stroke-width="1.4"/>
<circle cx="673.00" cy="671.50" r="2.30" fill="none" stroke="#000" stroke-width="1.4"/>
<circle cx="673.00" cy="679.72" r="2.30" fill="none" stroke="#000" stroke-width="1.4"/>
<circle cx="673.00" cy="689.81" r="2.30" fill="none" stroke="#000" stroke-width="1.4"/>
<circle cx="665.49" cy="693.33" r="2.30" fill="none" stroke="#000" stroke-width="1.4"/>
<circle cx="680.52" cy="693.33" r="2.30" fill="none" stroke="#000" stroke-width="1.4"/>
<circle cx="665.49" cy="699.20" r="2.30" fill="none" stroke="#000" stroke-width="1.4"/>
<circle cx="673.00" cy="699.20" r="2.30" fill="none" stroke="#000" stroke-width="1.4"/>
<circle cx="673.00" cy="717.28" r="2.30" fill="none" stroke="#000" stroke-width="1.4"/>
<line x1="443.20" y1="610.40" x2="443.20" y2="811.80" stroke="#000" stroke-width="1.8"/>
<line x1="438.60" y1="810.80" x2="696.60" y2="810.80" stroke="#000" stroke-width="2"/>
<text x="435.90" y="815.40" font-size="13" font-weight="bold" text-anchor="end" textLength="7.25" lengthAdjust="spacingAndGlyphs">0</text>
<line x1="438.60" y1="760.90" x2="443.20" y2="760.90" stroke="#000" stroke-width="1.6"/>
<text x="435.90" y="765.50" font-size="13" font-weight="bold" text-anchor="end" textLength="14.5" lengthAdjust="spacingAndGlyphs">50</text>
<line x1="438.60" y1="711.00" x2="443.20" y2="711.00" stroke="#000" stroke-width="1.6"/>
<text x="435.90" y="715.60" font-size="13" font-weight="bold" text-anchor="end" textLength="21.75" lengthAdjust="spacingAndGlyphs">100</text>
<line x1="438.60" y1="661.10" x2="443.20" y2="661.10" stroke="#000" stroke-width="1.6"/>
<text x="435.90" y="665.70" font-size="13" font-weight="bold" text-anchor="end" textLength="21.75" lengthAdjust="spacingAndGlyphs">150</text>
<line x1="438.60" y1="611.20" x2="443.20" y2="611.20" stroke="#000" stroke-width="1.6"/>
<text x="435.90" y="615.80" font-size="13" font-weight="bold" text-anchor="end" textLength="21.75" lengthAdjust="spacingAndGlyphs">200</text>
<line x1="465.96" y1="810.80" x2="465.96" y2="815.60" stroke="#000" stroke-width="1.6"/>
<line x1="500.47" y1="810.80" x2="500.47" y2="815.60" stroke="#000" stroke-width="1.6"/>
<line x1="534.98" y1="810.80" x2="534.98" y2="815.60" stroke="#000" stroke-width="1.6"/>
<line x1="569.72" y1="810.80" x2="569.72" y2="815.60" stroke="#000" stroke-width="1.6"/>
<line x1="603.76" y1="810.80" x2="603.76" y2="815.60" stroke="#000" stroke-width="1.6"/>
<line x1="638.26" y1="810.80" x2="638.26" y2="815.60" stroke="#000" stroke-width="1.6"/>
<line x1="673.00" y1="810.80" x2="673.00" y2="815.60" stroke="#000" stroke-width="1.6"/>
<text x="465.96" y="829.40" font-size="13" font-weight="bold" text-anchor="middle" textLength="19.5" lengthAdjust="spacingAndGlyphs">ND</text>
<text x="500.47" y="829.40" font-size="13" font-weight="bold" text-anchor="middle" textLength="28.0" lengthAdjust="spacingAndGlyphs">HFD</text>
<text x="534.98" y="829.40" font-size="13" font-weight="bold" text-anchor="middle" textLength="27.5" lengthAdjust="spacingAndGlyphs">FXT</text>
<text x="569.72" y="829.40" font-size="13" font-weight="bold" text-anchor="middle" textLength="24.0" lengthAdjust="spacingAndGlyphs">SIM</text>
<text x="603.76" y="829.40" font-size="13" font-weight="bold" text-anchor="middle" textLength="16.0" lengthAdjust="spacingAndGlyphs">30</text>
<text x="638.26" y="829.40" font-size="13" font-weight="bold" text-anchor="middle" textLength="24.0" lengthAdjust="spacingAndGlyphs">100</text>
<text x="673.00" y="829.40" font-size="13" font-weight="bold" text-anchor="middle" textLength="24.0" lengthAdjust="spacingAndGlyphs">300</text>
<line x1="591.00" y1="832.80" x2="686.80" y2="832.80" stroke="#000" stroke-width="2"/>
<text x="639.20" y="848.20" font-size="13" font-weight="bold" text-anchor="middle" textLength="94.0" lengthAdjust="spacingAndGlyphs">BTS (mg/kg/d)</text>
<line x1="521.20" y1="856.90" x2="689.90" y2="856.90" stroke="#000" stroke-width="2"/>
<text x="605.70" y="871.30" font-size="13" font-weight="bold" text-anchor="middle" textLength="36.0" lengthAdjust="spacingAndGlyphs">+HFD</text>
<text x="403.80" y="710.30" font-size="13.3" font-weight="bold" text-anchor="middle" textLength="97" lengthAdjust="spacingAndGlyphs" transform="rotate(-90 403.80 710.30)">HDL-C &#160;(mg/dl)</text>
<path d="M465.96,629.94 L465.96,627.14 L499.77,627.14 L499.77,629.94" fill="none" stroke="#3a3a3a" stroke-width="1.25"/>
<text x="483.36" y="629.44" font-size="17" font-weight="bold" text-anchor="middle" textLength="21.9" lengthAdjust="spacing">***</text>
<path d="M502.11,629.94 L502.11,627.14 L636.62,627.14 L636.62,629.94" fill="none" stroke="#3a3a3a" stroke-width="1.25"/>
<text x="569.87" y="625.34" font-size="12" font-weight="bold" text-anchor="middle" font-style="italic" textLength="6.9" lengthAdjust="spacingAndGlyphs">#</text>
<rect x="815.46" y="802.16" width="21.00" height="8.64" fill="#ffffff" stroke="#000" stroke-width="1.7"/>
<rect x="851.14" y="708.26" width="21.00" height="102.54" fill="#646464" stroke="#000" stroke-width="1.7"/>
<rect x="886.35" y="699.34" width="21.00" height="111.46" fill="#d5d5d5" stroke="#000" stroke-width="1.7"/>
<rect x="922.04" y="729.15" width="21.00" height="81.65" fill="#eee5c6" stroke="#000" stroke-width="1.7"/>
<rect x="957.25" y="743.24" width="21.00" height="67.56" fill="#ffa0a0" stroke="#000" stroke-width="1.7"/>
<rect x="992.46" y="748.64" width="21.00" height="62.16" fill="#ff3d3d" stroke="#000" stroke-width="1.7"/>
<rect x="1027.67" y="770.23" width="21.00" height="40.57" fill="#c30000" stroke="#000" stroke-width="1.7"/>
<line x1="825.96" y1="802.16" x2="825.96" y2="799.11" stroke="#555" stroke-width="1.15"/>
<line x1="820.46" y1="799.11" x2="831.46" y2="799.11" stroke="#333" stroke-width="1.5"/>
<line x1="861.64" y1="708.26" x2="861.64" y2="697.00" stroke="#555" stroke-width="1.15"/>
<line x1="856.14" y1="697.00" x2="867.14" y2="697.00" stroke="#333" stroke-width="1.5"/>
<line x1="896.85" y1="699.34" x2="896.85" y2="679.86" stroke="#555" stroke-width="1.15"/>
<line x1="891.35" y1="679.86" x2="902.35" y2="679.86" stroke="#333" stroke-width="1.5"/>
<line x1="932.54" y1="729.15" x2="932.54" y2="696.29" stroke="#555" stroke-width="1.15"/>
<line x1="927.04" y1="696.29" x2="938.04" y2="696.29" stroke="#333" stroke-width="1.5"/>
<line x1="967.75" y1="743.24" x2="967.75" y2="722.82" stroke="#555" stroke-width="1.15"/>
<line x1="962.25" y1="722.82" x2="973.25" y2="722.82" stroke="#333" stroke-width="1.5"/>
<line x1="1002.96" y1="748.64" x2="1002.96" y2="729.15" stroke="#555" stroke-width="1.15"/>
<line x1="997.46" y1="729.15" x2="1008.46" y2="729.15" stroke="#333" stroke-width="1.5"/>
<line x1="1038.17" y1="770.23" x2="1038.17" y2="755.68" stroke="#555" stroke-width="1.15"/>
<line x1="1032.67" y1="755.68" x2="1043.67" y2="755.68" stroke="#333" stroke-width="1.5"/>
<circle cx="819.39" cy="800.28" r="2.30" fill="none" stroke="#000" stroke-width="1.4"/>
<circle cx="822.91" cy="801.92" r="2.30" fill="none" stroke="#000" stroke-width="1.4"/>
<circle cx="825.96" cy="803.80" r="2.30" fill="none" stroke="#000" stroke-width="1.4"/>
<circle cx="828.78" cy="800.28" r="2.30" fill="none" stroke="#000" stroke-width="1.4"/>
<circle cx="832.30" cy="799.58" r="2.30" fill="none" stroke="#000" stroke-width="1.4"/>
<circle cx="824.55" cy="804.98" r="2.30" fill="none" stroke="#000" stroke-width="1.4"/>
<circle cx="858.12" cy="694.65" r="2.30" fill="none" stroke="#000" stroke-width="1.4"/>
<circle cx="865.63" cy="694.65" r="2.30" fill="none" stroke="#000" stroke-width="1.4"/>
<circle cx="853.90" cy="702.86" r="2.30" fill="none" stroke="#000" stroke-width="1.4"/>
<circle cx="869.15" cy="702.86" r="2.30" fill="none" stroke="#000" stroke-width="1.4"/>
<circle cx="861.64" cy="708.26" r="2.30" fill="none" stroke="#000" stroke-width="1.4"/>
<circle cx="858.12" cy="725.16" r="2.30" fill="none" stroke="#000" stroke-width="1.4"/>
<circle cx="865.63" cy="723.52" r="2.30" fill="none" stroke="#000" stroke-width="1.4"/>
<circle cx="896.85" cy="662.96" r="2.30" fill="none" stroke="#000" stroke-width="1.4"/>
<circle cx="889.11" cy="695.35" r="2.30" fill="none" stroke="#000" stroke-width="1.4"/>
<circle cx="896.85" cy="692.77" r="2.30" fill="none" stroke="#000" stroke-width="1.4"/>
<circle cx="904.60" cy="699.34" r="2.30" fill="none" stroke="#000" stroke-width="1.4"/>
<circle cx="896.85" cy="704.04" r="2.30" fill="none" stroke="#000" stroke-width="1.4"/>
<circle cx="896.85" cy="711.55" r="2.30" fill="none" stroke="#000" stroke-width="1.4"/>
<circle cx="896.85" cy="723.99" r="2.30" fill="none" stroke="#000" stroke-width="1.4"/>
<circle cx="932.07" cy="670.70" r="2.30" fill="none" stroke="#000" stroke-width="1.4"/>
<circle cx="928.54" cy="713.43" r="2.30" fill="none" stroke="#000" stroke-width="1.4"/>
<circle cx="936.29" cy="709.91" r="2.30" fill="none" stroke="#000" stroke-width="1.4"/>
<circle cx="928.54" cy="739.72" r="2.30" fill="none" stroke="#000" stroke-width="1.4"/>
<circle cx="936.29" cy="747.46" r="2.30" fill="none" stroke="#000" stroke-width="1.4"/>
<circle cx="928.54" cy="760.38" r="2.30" fill="none" stroke="#000" stroke-width="1.4"/>
<circle cx="936.29" cy="758.03" r="2.30" fill="none" stroke="#000" stroke-width="1.4"/>
<circle cx="967.75" cy="715.77" r="2.30" fill="none" stroke="#000" stroke-width="1.4"/>
<circle cx="963.76" cy="727.98" r="2.30" fill="none" stroke="#000" stroke-width="1.4"/>
<circle cx="971.50" cy="726.34" r="2.30" fill="none" stroke="#000" stroke-width="1.4"/>
<circle cx="963.76" cy="745.59" r="2.30" fill="none" stroke="#000" stroke-width="1.4"/>
<circle cx="971.50" cy="749.81" r="2.30" fill="none" stroke="#000" stroke-width="1.4"/>
<circle cx="963.76" cy="768.59" r="2.30" fill="none" stroke="#000" stroke-width="1.4"/>
<circle cx="971.50" cy="765.54" r="2.30" fill="none" stroke="#000" stroke-width="1.4"/>
<circle cx="1002.96" cy="723.99" r="2.30" fill="none" stroke="#000" stroke-width="1.4"/>
<circle cx="998.97" cy="731.74" r="2.30" fill="none" stroke="#000" stroke-width="1.4"/>
<circle cx="1006.71" cy="734.08" r="2.30" fill="none" stroke="#000" stroke-width="1.4"/>
<circle cx="998.97" cy="751.69" r="2.30" fill="none" stroke="#000" stroke-width="1.4"/>
<circle cx="1006.71" cy="751.69" r="2.30" fill="none" stroke="#000" stroke-width="1.4"/>
<circle cx="1002.96" cy="767.42" r="2.30" fill="none" stroke="#000" stroke-width="1.4"/>
<circle cx="1002.96" cy="776.34" r="2.30" fill="none" stroke="#000" stroke-width="1.4"/>
<circle cx="1038.17" cy="752.63" r="2.30" fill="none" stroke="#000" stroke-width="1.4"/>
<circle cx="1034.18" cy="761.55" r="2.30" fill="none" stroke="#000" stroke-width="1.4"/>
<circle cx="1041.92" cy="761.55" r="2.30" fill="none" stroke="#000" stroke-width="1.4"/>
<circle cx="1030.66" cy="772.11" r="2.30" fill="none" stroke="#000" stroke-width="1.4"/>
<circle cx="1038.17" cy="772.11" r="2.30" fill="none" stroke="#000" stroke-width="1.4"/>
<circle cx="1045.92" cy="769.77" r="2.30" fill="none" stroke="#000" stroke-width="1.4"/>
<circle cx="1038.17" cy="797.93" r="2.30" fill="none" stroke="#000" stroke-width="1.4"/>
<line x1="802.60" y1="605.40" x2="802.60" y2="811.80" stroke="#000" stroke-width="1.8"/>
<line x1="798.00" y1="810.80" x2="1061.77" y2="810.80" stroke="#000" stroke-width="2"/>
<text x="795.30" y="815.40" font-size="13" font-weight="bold" text-anchor="end" textLength="7.25" lengthAdjust="spacingAndGlyphs">0</text>
<line x1="798.00" y1="742.60" x2="802.60" y2="742.60" stroke="#000" stroke-width="1.6"/>
<text x="795.30" y="747.20" font-size="13" font-weight="bold" text-anchor="end" textLength="7.25" lengthAdjust="spacingAndGlyphs">5</text>
<line x1="798.00" y1="674.40" x2="802.60" y2="674.40" stroke="#000" stroke-width="1.6"/>
<text x="795.30" y="679.00" font-size="13" font-weight="bold" text-anchor="end" textLength="14.5" lengthAdjust="spacingAndGlyphs">10</text>
<line x1="798.00" y1="606.20" x2="802.60" y2="606.20" stroke="#000" stroke-width="1.6"/>
<text x="795.30" y="610.80" font-size="13" font-weight="bold" text-anchor="end" textLength="14.5" lengthAdjust="spacingAndGlyphs">15</text>
<line x1="825.96" y1="810.80" x2="825.96" y2="815.60" stroke="#000" stroke-width="1.6"/>
<line x1="861.64" y1="810.80" x2="861.64" y2="815.60" stroke="#000" stroke-width="1.6"/>
<line x1="896.85" y1="810.80" x2="896.85" y2="815.60" stroke="#000" stroke-width="1.6"/>
<line x1="932.54" y1="810.80" x2="932.54" y2="815.60" stroke="#000" stroke-width="1.6"/>
<line x1="967.75" y1="810.80" x2="967.75" y2="815.60" stroke="#000" stroke-width="1.6"/>
<line x1="1002.96" y1="810.80" x2="1002.96" y2="815.60" stroke="#000" stroke-width="1.6"/>
<line x1="1038.17" y1="810.80" x2="1038.17" y2="815.60" stroke="#000" stroke-width="1.6"/>
<text x="825.96" y="829.90" font-size="13" font-weight="bold" text-anchor="middle" textLength="20.085" lengthAdjust="spacingAndGlyphs">ND</text>
<text x="861.64" y="829.90" font-size="13" font-weight="bold" text-anchor="middle" textLength="28.84" lengthAdjust="spacingAndGlyphs">HFD</text>
<text x="896.85" y="829.90" font-size="13" font-weight="bold" text-anchor="middle" textLength="28.325" lengthAdjust="spacingAndGlyphs">FXT</text>
<text x="932.54" y="829.90" font-size="13" font-weight="bold" text-anchor="middle" textLength="24.72" lengthAdjust="spacingAndGlyphs">SIM</text>
<text x="967.75" y="829.90" font-size="13" font-weight="bold" text-anchor="middle" textLength="16.48" lengthAdjust="spacingAndGlyphs">30</text>
<text x="1002.96" y="829.90" font-size="13" font-weight="bold" text-anchor="middle" textLength="24.72" lengthAdjust="spacingAndGlyphs">100</text>
<text x="1038.17" y="829.90" font-size="13" font-weight="bold" text-anchor="middle" textLength="24.72" lengthAdjust="spacingAndGlyphs">300</text>
<line x1="956.30" y1="833.60" x2="1054.30" y2="833.60" stroke="#000" stroke-width="2"/>
<text x="1005.60" y="849.40" font-size="13" font-weight="bold" text-anchor="middle" textLength="96.82000000000001" lengthAdjust="spacingAndGlyphs">BTS (mg/kg/d)</text>
<line x1="884.60" y1="858.00" x2="1057.70" y2="858.00" stroke="#000" stroke-width="2"/>
<text x="970.90" y="873.60" font-size="13" font-weight="bold" text-anchor="middle" textLength="37.08" lengthAdjust="spacingAndGlyphs">+HFD</text>
<text x="768.50" y="707.90" font-size="13.3" font-weight="bold" text-anchor="middle" textLength="92" lengthAdjust="spacingAndGlyphs" transform="rotate(-90 768.50 707.90)">Leptin (ng/ml)</text>
<path d="M825.96,681.44 L825.96,678.64 L859.30,678.64 L859.30,681.44" fill="none" stroke="#3a3a3a" stroke-width="1.25"/>
<text x="843.13" y="680.94" font-size="17" font-weight="bold" text-anchor="middle" textLength="21.9" lengthAdjust="spacing">***</text>
<path d="M862.11,656.79 L862.11,653.99 L968.45,653.99 L968.45,656.79" fill="none" stroke="#3a3a3a" stroke-width="1.25"/>
<text x="915.78" y="652.19" font-size="12" font-weight="bold" text-anchor="middle" font-style="italic" textLength="13.8" lengthAdjust="spacingAndGlyphs">##</text>
<path d="M862.11,639.65 L862.11,636.85 L1006.71,636.85 L1006.71,639.65" fill="none" stroke="#3a3a3a" stroke-width="1.25"/>
<text x="934.91" y="635.05" font-size="12" font-weight="bold" text-anchor="middle" font-style="italic" textLength="13.8" lengthAdjust="spacingAndGlyphs">##</text>
<path d="M862.11,620.88 L862.11,618.08 L1040.05,618.08 L1040.05,620.88" fill="none" stroke="#3a3a3a" stroke-width="1.25"/>
<text x="951.58" y="616.28" font-size="12" font-weight="bold" text-anchor="middle" font-style="italic" textLength="20.700000000000003" lengthAdjust="spacingAndGlyphs">###</text>
</svg>
</body></html>
